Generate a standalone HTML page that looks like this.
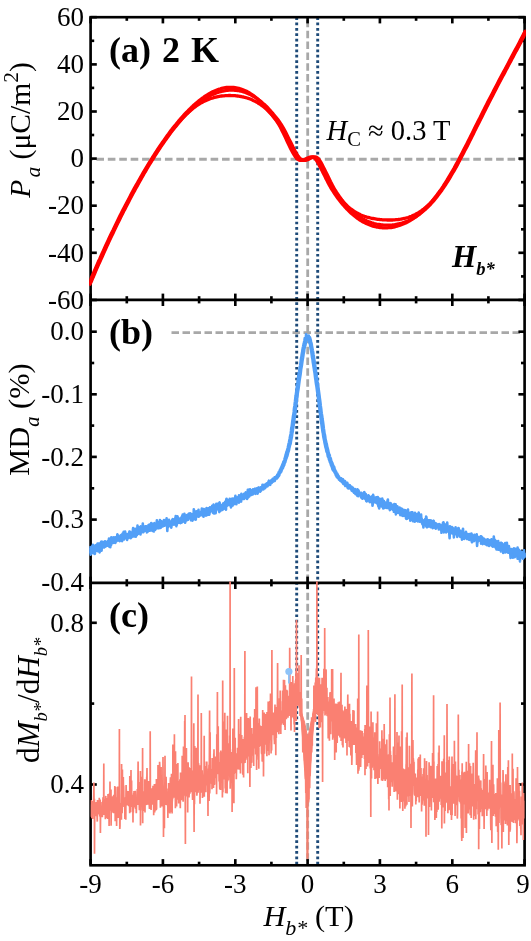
<!DOCTYPE html>
<html><head><meta charset="utf-8"><title>chart</title>
<style>
html,body{margin:0;padding:0;background:#fff;}
body{width:531px;height:941px;overflow:hidden;font-family:"Liberation Serif",serif;}
svg{display:block;will-change:transform;}
svg text{font-family:"Liberation Serif",serif;fill:#000;}
.tl text{font-size:27px;}
.it{font-style:italic;}
.b{font-weight:bold;}
</style></head><body>
<svg width="531" height="941" viewBox="0 0 531 941">
<rect width="531" height="941" fill="#fff"/>
<defs><clipPath id="ca"><rect x="89.3" y="15.9" width="436.5" height="568"/></clipPath><clipPath id="cc"><rect x="90.6" y="581.6" width="434" height="284"/></clipPath></defs>
<!-- guide lines -->
<g fill="none">
<line x1="90.6" y1="159.3" x2="524.6" y2="159.3" stroke="#a8a8a8" stroke-width="2.9" stroke-dasharray="7.6 3.82" stroke-dashoffset="5.62"/>
<line x1="171.5" y1="332.6" x2="524.6" y2="332.6" stroke="#a8a8a8" stroke-width="2.9" stroke-dasharray="7.5 3.5"/>
<g stroke="#a8a8a8" stroke-width="2.8" stroke-dasharray="7.5 3.35">
<line x1="307.7" y1="17.2" x2="307.7" y2="299.8" stroke-dashoffset="8.2"/>
<line x1="307.7" y1="299.8" x2="307.7" y2="582.8" stroke-dashoffset="7.4"/>
<line x1="307.7" y1="582.8" x2="307.7" y2="865.3" stroke-dashoffset="0.85"/>
</g>
<line x1="296.7" y1="17.2" x2="296.7" y2="865.3" stroke="#1d4a78" stroke-width="2.9" stroke-dasharray="2.7 2.68"/>
<line x1="317.7" y1="17.2" x2="317.7" y2="865.3" stroke="#1d4a78" stroke-width="2.9" stroke-dasharray="2.7 2.68"/>
</g>
<!-- frame -->
<g fill="none" stroke="#000" stroke-width="2.65" stroke-linecap="butt">
<rect x="90.6" y="17.2" width="434" height="848.1"/>
<line x1="90.6" y1="299.8" x2="524.6" y2="299.8"/>
<line x1="90.6" y1="582.8" x2="524.6" y2="582.8"/>
<line x1="90.6" y1="17.2" x2="90.6" y2="23.4"/><line x1="90.6" y1="293.6" x2="90.6" y2="306"/><line x1="90.6" y1="576.6" x2="90.6" y2="589"/><line x1="90.6" y1="859.1" x2="90.6" y2="865.3"/><line x1="126.8" y1="17.2" x2="126.8" y2="20.8"/><line x1="126.8" y1="296.2" x2="126.8" y2="303.4"/><line x1="126.8" y1="579.2" x2="126.8" y2="586.4"/><line x1="126.8" y1="861.7" x2="126.8" y2="865.3"/><line x1="162.9" y1="17.2" x2="162.9" y2="23.4"/><line x1="162.9" y1="293.6" x2="162.9" y2="306"/><line x1="162.9" y1="576.6" x2="162.9" y2="589"/><line x1="162.9" y1="859.1" x2="162.9" y2="865.3"/><line x1="199.1" y1="17.2" x2="199.1" y2="20.8"/><line x1="199.1" y1="296.2" x2="199.1" y2="303.4"/><line x1="199.1" y1="579.2" x2="199.1" y2="586.4"/><line x1="199.1" y1="861.7" x2="199.1" y2="865.3"/><line x1="235.3" y1="17.2" x2="235.3" y2="23.4"/><line x1="235.3" y1="293.6" x2="235.3" y2="306"/><line x1="235.3" y1="576.6" x2="235.3" y2="589"/><line x1="235.3" y1="859.1" x2="235.3" y2="865.3"/><line x1="271.4" y1="17.2" x2="271.4" y2="20.8"/><line x1="271.4" y1="296.2" x2="271.4" y2="303.4"/><line x1="271.4" y1="579.2" x2="271.4" y2="586.4"/><line x1="271.4" y1="861.7" x2="271.4" y2="865.3"/><line x1="307.6" y1="17.2" x2="307.6" y2="23.4"/><line x1="307.6" y1="293.6" x2="307.6" y2="306"/><line x1="307.6" y1="576.6" x2="307.6" y2="589"/><line x1="307.6" y1="859.1" x2="307.6" y2="865.3"/><line x1="343.8" y1="17.2" x2="343.8" y2="20.8"/><line x1="343.8" y1="296.2" x2="343.8" y2="303.4"/><line x1="343.8" y1="579.2" x2="343.8" y2="586.4"/><line x1="343.8" y1="861.7" x2="343.8" y2="865.3"/><line x1="379.9" y1="17.2" x2="379.9" y2="23.4"/><line x1="379.9" y1="293.6" x2="379.9" y2="306"/><line x1="379.9" y1="576.6" x2="379.9" y2="589"/><line x1="379.9" y1="859.1" x2="379.9" y2="865.3"/><line x1="416.1" y1="17.2" x2="416.1" y2="20.8"/><line x1="416.1" y1="296.2" x2="416.1" y2="303.4"/><line x1="416.1" y1="579.2" x2="416.1" y2="586.4"/><line x1="416.1" y1="861.7" x2="416.1" y2="865.3"/><line x1="452.3" y1="17.2" x2="452.3" y2="23.4"/><line x1="452.3" y1="293.6" x2="452.3" y2="306"/><line x1="452.3" y1="576.6" x2="452.3" y2="589"/><line x1="452.3" y1="859.1" x2="452.3" y2="865.3"/><line x1="488.4" y1="17.2" x2="488.4" y2="20.8"/><line x1="488.4" y1="296.2" x2="488.4" y2="303.4"/><line x1="488.4" y1="579.2" x2="488.4" y2="586.4"/><line x1="488.4" y1="861.7" x2="488.4" y2="865.3"/><line x1="524.6" y1="17.2" x2="524.6" y2="23.4"/><line x1="524.6" y1="293.6" x2="524.6" y2="306"/><line x1="524.6" y1="576.6" x2="524.6" y2="589"/><line x1="524.6" y1="859.1" x2="524.6" y2="865.3"/><line x1="90.6" y1="300" x2="96.8" y2="300"/><line x1="518.4" y1="300" x2="524.6" y2="300"/><line x1="90.6" y1="276.4" x2="94.2" y2="276.4"/><line x1="521" y1="276.4" x2="524.6" y2="276.4"/><line x1="90.6" y1="252.8" x2="96.8" y2="252.8"/><line x1="518.4" y1="252.8" x2="524.6" y2="252.8"/><line x1="90.6" y1="229.3" x2="94.2" y2="229.3"/><line x1="521" y1="229.3" x2="524.6" y2="229.3"/><line x1="90.6" y1="205.7" x2="96.8" y2="205.7"/><line x1="518.4" y1="205.7" x2="524.6" y2="205.7"/><line x1="90.6" y1="182.2" x2="94.2" y2="182.2"/><line x1="521" y1="182.2" x2="524.6" y2="182.2"/><line x1="90.6" y1="158.6" x2="96.8" y2="158.6"/><line x1="518.4" y1="158.6" x2="524.6" y2="158.6"/><line x1="90.6" y1="135" x2="94.2" y2="135"/><line x1="521" y1="135" x2="524.6" y2="135"/><line x1="90.6" y1="111.5" x2="96.8" y2="111.5"/><line x1="518.4" y1="111.5" x2="524.6" y2="111.5"/><line x1="90.6" y1="87.9" x2="94.2" y2="87.9"/><line x1="521" y1="87.9" x2="524.6" y2="87.9"/><line x1="90.6" y1="64.4" x2="96.8" y2="64.4"/><line x1="518.4" y1="64.4" x2="524.6" y2="64.4"/><line x1="90.6" y1="40.8" x2="94.2" y2="40.8"/><line x1="521" y1="40.8" x2="524.6" y2="40.8"/><line x1="90.6" y1="17.2" x2="96.8" y2="17.2"/><line x1="518.4" y1="17.2" x2="524.6" y2="17.2"/><line x1="90.6" y1="331.7" x2="96.8" y2="331.7"/><line x1="518.4" y1="331.7" x2="524.6" y2="331.7"/><line x1="90.6" y1="363" x2="94.2" y2="363"/><line x1="521" y1="363" x2="524.6" y2="363"/><line x1="90.6" y1="394.3" x2="96.8" y2="394.3"/><line x1="518.4" y1="394.3" x2="524.6" y2="394.3"/><line x1="90.6" y1="425.6" x2="94.2" y2="425.6"/><line x1="521" y1="425.6" x2="524.6" y2="425.6"/><line x1="90.6" y1="456.9" x2="96.8" y2="456.9"/><line x1="518.4" y1="456.9" x2="524.6" y2="456.9"/><line x1="90.6" y1="488.3" x2="94.2" y2="488.3"/><line x1="521" y1="488.3" x2="524.6" y2="488.3"/><line x1="90.6" y1="519.6" x2="96.8" y2="519.6"/><line x1="518.4" y1="519.6" x2="524.6" y2="519.6"/><line x1="90.6" y1="550.9" x2="94.2" y2="550.9"/><line x1="521" y1="550.9" x2="524.6" y2="550.9"/><line x1="90.6" y1="622.8" x2="96.8" y2="622.8"/><line x1="518.4" y1="622.8" x2="524.6" y2="622.8"/><line x1="90.6" y1="703.6" x2="94.2" y2="703.6"/><line x1="521" y1="703.6" x2="524.6" y2="703.6"/><line x1="90.6" y1="784.5" x2="96.8" y2="784.5"/><line x1="518.4" y1="784.5" x2="524.6" y2="784.5"/>
</g>
<!-- data -->
<g fill="none" stroke-linejoin="round" stroke-linecap="round">
<g stroke="#ff0000" stroke-width="3.3" clip-path="url(#ca)">
<path d="M89.9,281.4 L91.1,278.5 L92.3,275.7 L93.5,272.9 L94.7,270.1 L95.9,267.3 L97.1,264.6 L98.3,261.8 L99.6,259.1 L100.8,256.4 L102,253.7 L103.2,251.1 L104.4,248.4 L105.6,245.8 L106.8,243.2 L108,240.6 L109.2,238 L110.4,235.5 L111.6,232.9 L112.9,230.4 L114.1,227.9 L115.3,225.4 L116.5,222.9 L117.7,220.5 L118.9,218 L120.1,215.6 L121.3,213.2 L122.5,210.8 L123.7,208.5 L125,206.1 L126.2,203.8 L127.4,201.5 L128.6,199.2 L129.8,196.9 L131,194.6 L132.2,192.4 L133.4,190.1 L134.6,187.9 L135.8,185.7 L137.1,183.5 L138.3,181.4 L139.5,179.2 L140.7,177.1 L141.9,175 L143.1,172.9 L144.3,170.9 L145.5,168.8 L146.7,166.8 L147.9,164.8 L149.1,162.8 L150.4,160.8 L151.6,158.9 L152.8,157 L154,155.1 L155.2,153.2 L156.4,151.3 L157.6,149.5 L158.8,147.7 L160,145.9 L161.2,144.1 L162.5,142.3 L163.7,140.6 L164.9,138.9 L166.1,137.2 L167.3,135.5 L168.5,133.9 L169.7,132.2 L170.9,130.6 L172.1,129.1 L173.3,127.5 L174.5,126 L175.8,124.5 L177,123 L178.2,121.6 L179.4,120.1 L180.6,118.7 L181.8,117.4 L183,116 L184.2,114.7 L185.4,113.4 L186.6,112.1 L187.9,110.9 L189.1,109.6 L190.3,108.5 L191.5,107.3 L192.7,106.2 L193.9,105 L195.1,104 L196.3,102.9 L197.5,101.9 L198.7,100.9 L199.9,100 L201.2,99 L202.4,98.1 L203.6,97.3 L204.8,96.4 L206,95.6 L207.2,94.9 L208.4,94.1 L209.6,93.4 L210.8,92.8 L212,92.1 L213.3,91.5 L214.5,91 L215.7,90.5 L216.9,90 L218.1,89.5 L219.3,89.1 L220.5,88.8 L221.7,88.4 L222.9,88.1 L224.1,87.9 L225.3,87.7 L226.6,87.5 L227.8,87.4 L229,87.4 L230.2,87.3 L231.4,87.3 L232.6,87.4 L233.8,87.5 L235,87.6 L236.2,87.8 L237.4,88.1 L238.7,88.4 L239.9,88.7 L241.1,89.1 L242.3,89.5 L243.5,90 L244.7,90.5 L245.9,91 L247.1,91.6 L248.3,92.3 L249.5,93 L250.8,93.8 L252,94.6 L253.2,95.4 L254.4,96.3 L255.6,97.2 L256.8,98.2 L258,99.3 L259.2,100.3 L260.4,101.5 L261.6,102.6 L262.8,103.9 L264.1,105.2 L265.3,106.5 L266.5,107.9 L267.7,109.3 L268.9,110.8 L270.1,112.3 L271.3,113.9 L272.5,115.5 L273.7,117.1 L274.9,118.7 L276.2,120.4 L277.4,122.3 L278.6,124.2 L279.8,126.3 L281,128.5 L282.2,130.9 L283.4,133.3 L284.6,135.9 L285.8,138.4 L287,141 L288.2,143.6 L289.5,146.2 L290.7,148.7 L291.9,151 L293.1,153.2 L294.3,155.2 L295.5,157 L296.7,158.4 L297.9,159.4 L299.1,160.1 L300.3,160.4 L301.6,160.4 L302.8,160.2 L304,159.8 L305.2,159.2 L306.4,158.6 L307.6,158 L308.8,157.5 L310,157.1 L311.2,157 L312.4,157.1 L313.6,157.6 L314.9,158.5 L316.1,159.9 L317.3,161.8 L318.5,163.9 L319.7,166.1 L320.9,168.4 L322.1,170.8 L323.3,173.2 L324.5,175.6 L325.7,178.1 L327,180.5 L328.2,182.9 L329.4,185.1 L330.6,187.3 L331.8,189.3 L333,191.2 L334.2,193 L335.4,194.8 L336.6,196.5 L337.8,198.2 L339,199.8 L340.3,201.4 L341.5,202.9 L342.7,204.4 L343.9,205.8 L345.1,207.2 L346.3,208.5 L347.5,209.7 L348.7,210.9 L349.9,212.1 L351.1,213.2 L352.4,214.3 L353.6,215.3 L354.8,216.3 L356,217.2 L357.2,218.1 L358.4,219 L359.6,219.8 L360.8,220.5 L362,221.3 L363.2,222 L364.4,222.6 L365.7,223.2 L366.9,223.8 L368.1,224.3 L369.3,224.8 L370.5,225.3 L371.7,225.7 L372.9,226.1 L374.1,226.4 L375.3,226.7 L376.5,227 L377.8,227.2 L379,227.4 L380.2,227.6 L381.4,227.7 L382.6,227.8 L383.8,227.9 L385,227.9 L386.2,227.9 L387.4,227.8 L388.6,227.7 L389.9,227.6 L391.1,227.5 L392.3,227.3 L393.5,227.1 L394.7,226.8 L395.9,226.5 L397.1,226.2 L398.3,225.8 L399.5,225.4 L400.7,225 L401.9,224.5 L403.2,224 L404.4,223.5 L405.6,223 L406.8,222.4 L408,221.7 L409.2,221.1 L410.4,220.3 L411.6,219.6 L412.8,218.8 L414,218 L415.3,217.2 L416.5,216.3 L417.7,215.3 L418.9,214.4 L420.1,213.4 L421.3,212.3 L422.5,211.2 L423.7,210.1 L424.9,209 L426.1,207.7 L427.3,206.5 L428.6,205.2 L429.8,203.9 L431,202.5 L432.2,201.1 L433.4,199.6 L434.6,198.1 L435.8,196.5 L437,195 L438.2,193.3 L439.4,191.6 L440.7,189.9 L441.9,188.2 L443.1,186.4 L444.3,184.5 L445.5,182.6 L446.7,180.7 L447.9,178.7 L449.1,176.7 L450.3,174.7 L451.5,172.6 L452.7,170.5 L454,168.3 L455.2,166.1 L456.4,163.9 L457.6,161.7 L458.8,159.4 L460,157.1 L461.2,154.8 L462.4,152.5 L463.6,150.1 L464.8,147.8 L466.1,145.4 L467.3,143 L468.5,140.6 L469.7,138.2 L470.9,135.8 L472.1,133.4 L473.3,131 L474.5,128.5 L475.7,126.1 L476.9,123.7 L478.1,121.3 L479.4,118.9 L480.6,116.4 L481.8,114 L483,111.6 L484.2,109.2 L485.4,106.8 L486.6,104.5 L487.8,102.1 L489,99.7 L490.2,97.4 L491.5,95 L492.7,92.7 L493.9,90.3 L495.1,88 L496.3,85.7 L497.5,83.4 L498.7,81.1 L499.9,78.8 L501.1,76.5 L502.3,74.2 L503.6,71.9 L504.8,69.7 L506,67.4 L507.2,65.2 L508.4,62.9 L509.6,60.6 L510.8,58.4 L512,56.1 L513.2,53.9 L514.4,51.6 L515.6,49.3 L516.9,47 L518.1,44.8 L519.3,42.5 L520.5,40.1 L521.7,37.8 L522.9,35.5 L524.1,33.1 L525.3,31.2"/><path d="M89.9,284.3 L91.1,282 L92.3,279.1 L93.5,276.3 L94.7,273.5 L95.9,270.7 L97.1,267.9 L98.3,265.1 L99.6,262.4 L100.8,259.7 L102,257 L103.2,254.3 L104.4,251.6 L105.6,249 L106.8,246.3 L108,243.7 L109.2,241.1 L110.4,238.5 L111.6,236 L112.9,233.4 L114.1,230.9 L115.3,228.4 L116.5,225.9 L117.7,223.4 L118.9,221 L120.1,218.5 L121.3,216.1 L122.5,213.7 L123.7,211.3 L125,208.9 L126.2,206.6 L127.4,204.2 L128.6,201.9 L129.8,199.6 L131,197.3 L132.2,195 L133.4,192.8 L134.6,190.6 L135.8,188.3 L137.1,186.1 L138.3,184 L139.5,181.8 L140.7,179.7 L141.9,177.5 L143.1,175.4 L144.3,173.3 L145.5,171.3 L146.7,169.2 L147.9,167.2 L149.1,165.2 L150.4,163.2 L151.6,161.2 L152.8,159.3 L154,157.3 L155.2,155.4 L156.4,153.6 L157.6,151.7 L158.8,149.8 L160,148 L161.2,146.2 L162.5,144.4 L163.7,142.7 L164.9,140.9 L166.1,139.2 L167.3,137.5 L168.5,135.9 L169.7,134.2 L170.9,132.6 L172.1,131 L173.3,129.5 L174.5,127.9 L175.8,126.4 L177,124.9 L178.2,123.5 L179.4,122 L180.6,120.6 L181.8,119.2 L183,117.9 L184.2,116.6 L185.4,115.3 L186.6,114 L187.9,112.8 L189.1,111.6 L190.3,110.4 L191.5,109.2 L192.7,108.1 L193.9,107.1 L195.1,106 L196.3,105 L197.5,104 L198.7,103 L199.9,102.1 L201.2,101.2 L202.4,100.4 L203.6,99.6 L204.8,98.8 L206,98 L207.2,97.3 L208.4,96.6 L209.6,95.9 L210.8,95.3 L212,94.7 L213.3,94.2 L214.5,93.7 L215.7,93.2 L216.9,92.7 L218.1,92.3 L219.3,92 L220.5,91.6 L221.7,91.3 L222.9,91 L224.1,90.8 L225.3,90.6 L226.6,90.4 L227.8,90.3 L229,90.2 L230.2,90.1 L231.4,90.1 L232.6,90.1 L233.8,90.2 L235,90.3 L236.2,90.4 L237.4,90.5 L238.7,90.7 L239.9,91 L241.1,91.2 L242.3,91.5 L243.5,91.9 L244.7,92.3 L245.9,92.7 L247.1,93.2 L248.3,93.7 L249.5,94.3 L250.8,94.8 L252,95.5 L253.2,96.2 L254.4,96.9 L255.6,97.7 L256.8,98.5 L258,99.3 L259.2,100.2 L260.4,101.1 L261.6,102.1 L262.8,103.2 L264.1,104.2 L265.3,105.3 L266.5,106.5 L267.7,107.7 L268.9,109 L270.1,110.3 L271.3,111.7 L272.5,113.1 L273.7,114.6 L274.9,116 L276.2,117.5 L277.4,119 L278.6,120.6 L279.8,122.3 L281,124.1 L282.2,126.1 L283.4,128.1 L284.6,130.3 L285.8,132.6 L287,135 L288.2,137.4 L289.5,139.9 L290.7,142.3 L291.9,144.8 L293.1,147.2 L294.3,149.6 L295.5,151.8 L296.7,153.9 L297.9,155.7 L299.1,157.3 L300.3,158.6 L301.6,159.5 L302.8,160.1 L304,160.4 L305.2,160.4 L306.4,160.1 L307.6,159.7 L308.8,159.2 L310,158.6 L311.2,158 L312.4,157.5 L313.6,157.1 L314.9,157 L316.1,157.1 L317.3,157.7 L318.5,158.8 L319.7,160.4 L320.9,162.3 L322.1,164.5 L323.3,166.9 L324.5,169.3 L325.7,171.7 L327,174.2 L328.2,176.8 L329.4,179.3 L330.6,181.8 L331.8,184.1 L333,186.4 L334.2,188.5 L335.4,190.5 L336.6,192.4 L337.8,194.2 L339,196 L340.3,197.7 L341.5,199.4 L342.7,201 L343.9,202.5 L345.1,203.9 L346.3,205.3 L347.5,206.7 L348.7,207.9 L349.9,209.1 L351.1,210.3 L352.4,211.4 L353.6,212.4 L354.8,213.4 L356,214.4 L357.2,215.3 L358.4,216.2 L359.6,217 L360.8,217.7 L362,218.4 L363.2,219.1 L364.4,219.8 L365.7,220.3 L366.9,220.9 L368.1,221.4 L369.3,221.9 L370.5,222.3 L371.7,222.8 L372.9,223.1 L374.1,223.5 L375.3,223.8 L376.5,224.1 L377.8,224.3 L379,224.5 L380.2,224.7 L381.4,224.9 L382.6,225 L383.8,225.1 L385,225.1 L386.2,225.2 L387.4,225.2 L388.6,225.2 L389.9,225.1 L391.1,225.1 L392.3,225 L393.5,224.8 L394.7,224.7 L395.9,224.5 L397.1,224.2 L398.3,224 L399.5,223.7 L400.7,223.4 L401.9,223.1 L403.2,222.7 L404.4,222.3 L405.6,221.8 L406.8,221.4 L408,220.9 L409.2,220.3 L410.4,219.7 L411.6,219.1 L412.8,218.5 L414,217.8 L415.3,217.1 L416.5,216.3 L417.7,215.5 L418.9,214.6 L420.1,213.7 L421.3,212.8 L422.5,211.8 L423.7,210.8 L424.9,209.8 L426.1,208.7 L427.3,207.5 L428.6,206.3 L429.8,205.1 L431,203.8 L432.2,202.4 L433.4,201.1 L434.6,199.6 L435.8,198.2 L437,196.7 L438.2,195.1 L439.4,193.5 L440.7,191.8 L441.9,190.2 L443.1,188.4 L444.3,186.6 L445.5,184.8 L446.7,182.9 L447.9,181 L449.1,179.1 L450.3,177.1 L451.5,175 L452.7,173 L454,170.9 L455.2,168.7 L456.4,166.6 L457.6,164.4 L458.8,162.1 L460,159.9 L461.2,157.6 L462.4,155.3 L463.6,152.9 L464.8,150.6 L466.1,148.2 L467.3,145.9 L468.5,143.5 L469.7,141.1 L470.9,138.7 L472.1,136.3 L473.3,133.9 L474.5,131.4 L475.7,129 L476.9,126.6 L478.1,124.2 L479.4,121.7 L480.6,119.3 L481.8,116.9 L483,114.5 L484.2,112.1 L485.4,109.7 L486.6,107.3 L487.8,104.9 L489,102.5 L490.2,100.2 L491.5,97.8 L492.7,95.5 L493.9,93.1 L495.1,90.8 L496.3,88.5 L497.5,86.1 L498.7,83.8 L499.9,81.5 L501.1,79.2 L502.3,76.9 L503.6,74.7 L504.8,72.4 L506,70.1 L507.2,67.9 L508.4,65.6 L509.6,63.3 L510.8,61.1 L512,58.8 L513.2,56.6 L514.4,54.3 L515.6,52 L516.9,49.8 L518.1,47.5 L519.3,45.2 L520.5,42.9 L521.7,40.6 L522.9,38.3 L524.1,35.9 L525.3,33.6"/><path d="M89.9,283.1 L91.1,280.2 L92.3,277.4 L93.5,274.6 L94.7,271.8 L95.9,269 L97.1,266.2 L98.3,263.5 L99.6,260.8 L100.8,258 L102,255.3 L103.2,252.7 L104.4,250 L105.6,247.4 L106.8,244.8 L108,242.2 L109.2,239.6 L110.4,237 L111.6,234.4 L112.9,231.9 L114.1,229.4 L115.3,226.9 L116.5,224.4 L117.7,221.9 L118.9,219.5 L120.1,217.1 L121.3,214.7 L122.5,212.3 L123.7,209.9 L125,207.5 L126.2,205.2 L127.4,202.8 L128.6,200.5 L129.8,198.2 L131,196 L132.2,193.7 L133.4,191.5 L134.6,189.2 L135.8,187 L137.1,184.8 L138.3,182.7 L139.5,180.5 L140.7,178.4 L141.9,176.3 L143.1,174.2 L144.3,172.1 L145.5,170 L146.7,168 L147.9,166 L149.1,164 L150.4,162 L151.6,160.1 L152.8,158.1 L154,156.2 L155.2,154.3 L156.4,152.4 L157.6,150.6 L158.8,148.8 L160,147 L161.2,145.2 L162.5,143.4 L163.7,141.7 L164.9,140 L166.1,138.3 L167.3,136.6 L168.5,135 L169.7,133.4 L170.9,131.8 L172.1,130.2 L173.3,128.7 L174.5,127.2 L175.8,125.8 L177,124.3 L178.2,122.9 L179.4,121.6 L180.6,120.2 L181.8,118.9 L183,117.6 L184.2,116.4 L185.4,115.2 L186.6,114 L187.9,112.9 L189.1,111.8 L190.3,110.7 L191.5,109.7 L192.7,108.7 L193.9,107.8 L195.1,106.9 L196.3,106 L197.5,105.2 L198.7,104.4 L199.9,103.6 L201.2,102.9 L202.4,102.2 L203.6,101.6 L204.8,101 L206,100.4 L207.2,99.9 L208.4,99.4 L209.6,98.9 L210.8,98.5 L212,98.1 L213.3,97.8 L214.5,97.4 L215.7,97.1 L216.9,96.8 L218.1,96.6 L219.3,96.4 L220.5,96.2 L221.7,96 L222.9,95.9 L224.1,95.8 L225.3,95.7 L226.6,95.6 L227.8,95.6 L229,95.5 L230.2,95.5 L231.4,95.6 L232.6,95.6 L233.8,95.7 L235,95.7 L236.2,95.9 L237.4,96 L238.7,96.1 L239.9,96.3 L241.1,96.5 L242.3,96.8 L243.5,97 L244.7,97.3 L245.9,97.7 L247.1,98 L248.3,98.4 L249.5,98.8 L250.8,99.3 L252,99.8 L253.2,100.4 L254.4,100.9 L255.6,101.6 L256.8,102.2 L258,103 L259.2,103.7 L260.4,104.5 L261.6,105.4 L262.8,106.3 L264.1,107.3 L265.3,108.3 L266.5,109.4 L267.7,110.6 L268.9,111.8 L270.1,113 L271.3,114.3 L272.5,115.7 L273.7,117.1 L274.9,118.5 L276.2,119.9 L277.4,121.5 L278.6,123.1 L279.8,124.9 L281,126.8 L282.2,128.9 L283.4,131.1 L284.6,133.4 L285.8,135.8 L287,138.2 L288.2,140.7 L289.5,143.2 L290.7,145.7 L291.9,148.1 L293.1,150.4 L294.3,152.6 L295.5,154.6 L296.7,156.4 L297.9,157.9 L299.1,159 L300.3,159.8 L301.6,160.3 L302.8,160.4 L304,160.3 L305.2,160 L306.4,159.5 L307.6,158.9 L308.8,158.3 L310,157.7 L311.2,157.3 L312.4,157 L313.6,157 L314.9,157.3 L316.1,158.1 L317.3,159.3 L318.5,161 L319.7,163 L320.9,165.2 L322.1,167.5 L323.3,169.9 L324.5,172.3 L325.7,174.7 L327,177.2 L328.2,179.6 L329.4,182 L330.6,184.2 L331.8,186.3 L333,188.3 L334.2,190.2 L335.4,192 L336.6,193.7 L337.8,195.3 L339,196.9 L340.3,198.5 L341.5,199.9 L342.7,201.3 L343.9,202.6 L345.1,203.9 L346.3,205 L347.5,206.2 L348.7,207.2 L349.9,208.2 L351.1,209.2 L352.4,210 L353.6,210.9 L354.8,211.7 L356,212.4 L357.2,213.1 L358.4,213.7 L359.6,214.3 L360.8,214.9 L362,215.4 L363.2,215.9 L364.4,216.3 L365.7,216.7 L366.9,217.1 L368.1,217.4 L369.3,217.7 L370.5,218 L371.7,218.3 L372.9,218.5 L374.1,218.7 L375.3,218.9 L376.5,219.1 L377.8,219.3 L379,219.4 L380.2,219.6 L381.4,219.7 L382.6,219.8 L383.8,219.8 L385,219.9 L386.2,219.9 L387.4,220 L388.6,220 L389.9,220 L391.1,220 L392.3,220 L393.5,219.9 L394.7,219.8 L395.9,219.7 L397.1,219.6 L398.3,219.5 L399.5,219.3 L400.7,219.2 L401.9,219 L403.2,218.7 L404.4,218.5 L405.6,218.2 L406.8,217.8 L408,217.5 L409.2,217.1 L410.4,216.6 L411.6,216.2 L412.8,215.6 L414,215.1 L415.3,214.5 L416.5,213.8 L417.7,213.1 L418.9,212.4 L420.1,211.6 L421.3,210.8 L422.5,209.9 L423.7,209 L424.9,208 L426.1,207 L427.3,205.9 L428.6,204.8 L429.8,203.6 L431,202.3 L432.2,201.1 L433.4,199.7 L434.6,198.3 L435.8,196.9 L437,195.4 L438.2,193.8 L439.4,192.3 L440.7,190.6 L441.9,188.9 L443.1,187.2 L444.3,185.4 L445.5,183.6 L446.7,181.7 L447.9,179.8 L449.1,177.8 L450.3,175.8 L451.5,173.8 L452.7,171.7 L454,169.6 L455.2,167.4 L456.4,165.2 L457.6,163 L458.8,160.8 L460,158.5 L461.2,156.2 L462.4,153.9 L463.6,151.6 L464.8,149.2 L466.1,146.8 L467.3,144.4 L468.5,142.1 L469.7,139.7 L470.9,137.2 L472.1,134.8 L473.3,132.4 L474.5,130 L475.7,127.6 L476.9,125.1 L478.1,122.7 L479.4,120.3 L480.6,117.9 L481.8,115.5 L483,113.1 L484.2,110.7 L485.4,108.3 L486.6,105.9 L487.8,103.5 L489,101.1 L490.2,98.8 L491.5,96.4 L492.7,94.1 L493.9,91.7 L495.1,89.4 L496.3,87.1 L497.5,84.8 L498.7,82.5 L499.9,80.2 L501.1,77.9 L502.3,75.6 L503.6,73.3 L504.8,71 L506,68.8 L507.2,66.5 L508.4,64.2 L509.6,62 L510.8,59.7 L512,57.5 L513.2,55.2 L514.4,52.9 L515.6,50.7 L516.9,48.4 L518.1,46.1 L519.3,43.8 L520.5,41.5 L521.7,39.2 L522.9,36.9 L524.1,34.5 L525.3,32.2"/>
</g>
<g stroke="#529ff7" stroke-width="2.6" clip-path="url(#ca)"><path d="M89.9,547.2 L90.2,552.5 L90.5,548.7 L90.9,549 L91.2,549.5 L91.6,548 L91.9,546.2 L92.2,550.2 L92.6,550.2 L92.9,544.8 L93.2,553.3 L93.6,551.8 L93.9,547.2 L94.2,550.1 L94.6,547.6 L94.9,547.8 L95.2,549.6 L95.6,545.3 L95.9,548.4 L96.2,550.8 L96.6,550.8 L96.9,547 L97.3,548.9 L97.6,543.6 L97.9,545.7 L98.3,547.5 L98.6,543.6 L98.9,545.6 L99.3,549.9 L99.6,552.4 L99.9,548.6 L100.3,547.8 L100.6,543.7 L100.9,542.3 L101.3,541.6 L101.6,545.7 L101.9,546.8 L102.3,543.6 L102.6,541.7 L103,544.6 L103.3,545.1 L103.6,544 L104,546.8 L104.3,544.2 L104.6,543.6 L105,541.2 L105.3,543.4 L105.6,546.4 L106,543.9 L106.3,543.2 L106.6,543.9 L107,543.6 L107.3,543.9 L107.6,543.9 L108,543.9 L108.3,540.7 L108.6,542.4 L109,538.5 L109.3,541.8 L109.7,539 L110,540.9 L110.3,542.4 L110.7,540.5 L111,541.2 L111.3,537.4 L111.7,538.3 L112,541.9 L112.3,538.3 L112.7,541.4 L113,537.5 L113.3,537.6 L113.7,537.3 L114,539.5 L114.3,540.9 L114.7,537.5 L115,538.7 L115.4,542.9 L115.7,539.2 L116,537.2 L116.4,539.5 L116.7,538.5 L117,537.1 L117.4,534.4 L117.7,539.6 L118,537.4 L118.4,538 L118.7,535.7 L119,540.4 L119.4,540 L119.7,540.2 L120,537.7 L120.4,538.4 L120.7,539.5 L121.1,539.8 L121.4,538.2 L121.7,536.9 L122.1,536 L122.4,534.9 L122.7,534.2 L123.1,536.9 L123.4,535.9 L123.7,531.7 L124.1,535 L124.4,538.3 L124.7,535.6 L125.1,531.5 L125.4,534.6 L125.7,537.2 L126.1,536.1 L126.4,534.4 L126.8,539 L127.1,539.9 L127.4,535.4 L127.8,536.5 L128.1,535.8 L128.4,536.4 L128.8,537.9 L129.1,536.7 L129.4,534.7 L129.8,532.6 L130.1,531.9 L130.4,533.4 L130.8,536.2 L131.1,534.7 L131.4,533.7 L131.8,533.9 L132.1,533.4 L132.4,534.3 L132.8,530.7 L133.1,528.1 L133.5,531 L133.8,529.9 L134.1,535.6 L134.5,532.7 L134.8,531.7 L135.1,528.7 L135.5,532.1 L135.8,530.7 L136.1,534.1 L136.5,534 L136.8,530.2 L137.1,532.1 L137.5,525.5 L137.8,528.7 L138.1,533.7 L138.5,533.3 L138.8,531.6 L139.2,530.8 L139.5,527.6 L139.8,527.1 L140.2,530.5 L140.5,534.4 L140.8,526.2 L141.2,530.7 L141.5,531.6 L141.8,532.3 L142.2,528.3 L142.5,528.2 L142.8,529.5 L143.2,527.3 L143.5,526.3 L143.8,526.9 L144.2,528.7 L144.5,529.9 L144.9,529.1 L145.2,529.1 L145.5,527.3 L145.9,526.8 L146.2,530.8 L146.5,528.8 L146.9,528.2 L147.2,530.3 L147.5,531.3 L147.9,531.4 L148.2,529.4 L148.5,527.9 L148.9,528.4 L149.2,528.2 L149.5,530.7 L149.9,528.7 L150.2,528.9 L150.6,527.5 L150.9,530.2 L151.2,523.1 L151.6,527 L151.9,528.7 L152.2,524.5 L152.6,531 L152.9,527.1 L153.2,526.1 L153.6,523.9 L153.9,527.8 L154.2,527 L154.6,524.9 L154.9,526.3 L155.2,527.5 L155.6,528.8 L155.9,526.7 L156.2,523.6 L156.6,523.9 L156.9,520.2 L157.3,522.9 L157.6,526.6 L157.9,526.5 L158.3,525.1 L158.6,524.2 L158.9,528.3 L159.3,526.1 L159.6,526.9 L159.9,525.9 L160.3,523.3 L160.6,527.7 L160.9,522.3 L161.3,521.2 L161.6,522.8 L161.9,522.4 L162.3,522.6 L162.6,522.5 L163,525.9 L163.3,524.3 L163.6,524.6 L164,520.3 L164.3,521.1 L164.6,525.6 L165,521.2 L165.3,525.5 L165.6,521.4 L166,523.4 L166.3,521.3 L166.6,523.1 L167,521 L167.3,521.9 L167.6,526.4 L168,522.5 L168.3,527 L168.7,522.3 L169,519.7 L169.3,522.1 L169.7,521.4 L170,525.9 L170.3,524.7 L170.7,525 L171,523.8 L171.3,527.6 L171.7,524.5 L172,523.2 L172.3,520 L172.7,519.2 L173,521.5 L173.3,523.7 L173.7,524.2 L174,519.6 L174.4,522 L174.7,521.7 L175,518.6 L175.4,521.6 L175.7,516 L176,520.4 L176.4,526.2 L176.7,519.3 L177,520.1 L177.4,516.2 L177.7,517.9 L178,521.6 L178.4,518.1 L178.7,519.6 L179,519.2 L179.4,518.9 L179.7,520.1 L180,520.9 L180.4,522.5 L180.7,521.8 L181.1,518.5 L181.4,522.3 L181.7,522.6 L182.1,516.2 L182.4,519.9 L182.7,521.1 L183.1,521.3 L183.4,520.4 L183.7,516 L184.1,517.5 L184.4,513.8 L184.7,517.3 L185.1,522.7 L185.4,520.5 L185.7,520.2 L186.1,517.2 L186.4,515.5 L186.8,515.1 L187.1,517.6 L187.4,515.9 L187.8,515.8 L188.1,519.7 L188.4,514.1 L188.8,513.7 L189.1,515.5 L189.4,516.6 L189.8,516.6 L190.1,513.6 L190.4,516.6 L190.8,516.4 L191.1,517.2 L191.4,514.1 L191.8,516.4 L192.1,516.7 L192.5,514.7 L192.8,515.2 L193.1,514.5 L193.5,518.5 L193.8,509.2 L194.1,511.1 L194.5,511 L194.8,513.8 L195.1,513.5 L195.5,513.9 L195.8,516.3 L196.1,511.5 L196.5,512.2 L196.8,513.8 L197.1,511.7 L197.5,514.7 L197.8,515.1 L198.2,512.7 L198.5,509.8 L198.8,516.7 L199.2,515.4 L199.5,514.8 L199.8,513.9 L200.2,513.4 L200.5,515.1 L200.8,513.5 L201.2,511.7 L201.5,514.3 L201.8,513.2 L202.2,511 L202.5,510.3 L202.8,514.7 L203.2,514.2 L203.5,516.8 L203.9,511.7 L204.2,510.1 L204.5,512.5 L204.9,515 L205.2,513.5 L205.5,512.7 L205.9,515.7 L206.2,510.4 L206.5,508.1 L206.9,508.9 L207.2,509.9 L207.5,511.5 L207.9,513 L208.2,511.8 L208.5,513.9 L208.9,509 L209.2,514 L209.5,509 L209.9,512.2 L210.2,508.2 L210.6,510 L210.9,509.8 L211.2,510.6 L211.6,511.1 L211.9,509 L212.2,508.8 L212.6,509.4 L212.9,506 L213.2,506.5 L213.6,504.6 L213.9,507.8 L214.2,513.2 L214.6,510.6 L214.9,506.4 L215.2,506 L215.6,509.6 L215.9,507 L216.3,503.8 L216.6,504.5 L216.9,504.5 L217.3,504.4 L217.6,508.1 L217.9,507.3 L218.3,503.5 L218.6,504.8 L218.9,503.7 L219.3,503.2 L219.6,502.4 L219.9,509.4 L220.3,506 L220.6,507 L220.9,507.8 L221.3,505 L221.6,506.5 L222,506.7 L222.3,505.9 L222.6,509.9 L223,506.4 L223.3,504.4 L223.6,506 L224,508.7 L224.3,507.3 L224.6,503.6 L225,502 L225.3,501.6 L225.6,502 L226,504.3 L226.3,505.6 L226.6,498.8 L227,502.4 L227.3,500.7 L227.7,504.1 L228,505.2 L228.3,501.4 L228.7,501.3 L229,500.2 L229.3,502.9 L229.7,498.8 L230,499 L230.3,500 L230.7,504.3 L231,507.5 L231.3,502.5 L231.7,498.7 L232,500.9 L232.3,499.2 L232.7,501.7 L233,498.6 L233.3,499.4 L233.7,500.4 L234,501.6 L234.4,500.3 L234.7,502.9 L235,500.8 L235.4,495.9 L235.7,501 L236,499.3 L236.4,497.8 L236.7,502.3 L237,497.5 L237.4,498.8 L237.7,497.3 L238,501.4 L238.4,498.3 L238.7,498.8 L239,495.3 L239.4,500.6 L239.7,496.2 L240.1,499.3 L240.4,500.3 L240.7,500.5 L241.1,501.6 L241.4,495.4 L241.7,497.4 L242.1,497.3 L242.4,497.6 L242.7,498.9 L243.1,497 L243.4,494.7 L243.7,495.6 L244.1,498.9 L244.4,494 L244.7,495.4 L245.1,493.6 L245.4,497.1 L245.8,492.4 L246.1,493.8 L246.4,494.5 L246.8,494.8 L247.1,498.9 L247.4,497.9 L247.8,492.8 L248.1,497.5 L248.4,492.3 L248.8,489.9 L249.1,490.2 L249.4,493.2 L249.8,494.1 L250.1,489.3 L250.4,492.8 L250.8,492.3 L251.1,493.5 L251.5,491.8 L251.8,493.4 L252.1,493.1 L252.5,490 L252.8,493.6 L253.1,492.1 L253.5,492.4 L253.8,493.2 L254.1,489.7 L254.5,490.3 L254.8,489.3 L255.1,488.7 L255.5,490.4 L255.8,490.7 L256.1,492 L256.5,492.2 L256.8,489.9 L257.1,488.2 L257.5,493.7 L257.8,493 L258.2,489.4 L258.5,487.5 L258.8,487.9 L259.2,488.8 L259.5,490 L259.8,489.8 L260.2,488.9 L260.5,487.7 L260.8,487.9 L261.2,487.2 L261.5,487.4 L261.8,487.1 L262.2,487.7 L262.5,484.7 L262.8,485.9 L263.2,486.1 L263.5,485 L263.9,485.8 L264.2,484.8 L264.5,484.9 L264.9,485.2 L265.2,485.1 L265.5,484.6 L265.9,486.2 L266.2,485.3 L266.5,485.1 L266.9,484.8 L267.2,483.6 L267.5,483 L267.9,484.6 L268.2,483.4 L268.5,481.6 L268.9,480.7 L269.2,482.8 L269.6,482.1 L269.9,482.3 L270.2,481.7 L270.6,481.6 L270.9,481.5 L271.2,480.4 L271.6,481 L271.9,481.8 L272.2,481.4 L272.6,479 L272.9,478.7 L273.2,478.5 L273.6,479.1 L273.9,479.8 L274.2,479.2 L274.6,477.2 L274.9,477.9 L275.3,478.4 L275.6,477.1 L275.9,478.3 L276.3,476.3 L276.6,476.9 L276.9,477.4 L277.3,474.6 L277.6,474.3 L277.9,474.5 L278.3,475.7 L278.6,472.2 L278.9,472.5 L279.3,472 L279.6,470.9 L279.9,470 L280.3,469.4 L280.6,468.8 L281,467.6 L281.3,468.2 L281.6,466.3 L282,465.6 L282.3,464.7 L282.6,463.9 L283,463.3 L283.3,462 L283.6,461.3 L284,461.1 L284.3,460 L284.6,458.4 L285,457.7 L285.3,456.1 L285.6,455.3 L286,453.6 L286.3,452.5 L286.6,451.4 L287,450.8 L287.3,449.3 L287.7,448.1 L288,446.6 L288.3,445.2 L288.7,443.7 L289,442.3 L289.3,440.5 L289.7,438.4 L290,436.6 L290.3,435.4 L290.7,433.4 L291,431 L291.3,427.9 L291.7,426.4 L292,423.8 L292.3,421.1 L292.7,418.6 L293,416.1 L293.4,414.3 L293.7,411.9 L294,408.4 L294.4,405.9 L294.7,403.5 L295,401.2 L295.4,397.3 L295.7,395.6 L296,393.5 L296.4,390.4 L296.7,387.9 L297,385.9 L297.4,383.4 L297.7,380.4 L298,378 L298.4,375.8 L298.7,373.4 L299.1,371.7 L299.4,369.4 L299.7,367.3 L300.1,365.4 L300.4,363.6 L300.7,361 L301.1,358 L301.4,356.8 L301.7,354.3 L302.1,352.6 L302.4,350.1 L302.7,348.4 L303.1,346.6 L303.4,345 L303.7,343.9 L304.1,341.9 L304.4,340.7 L304.8,338 L305.1,338.2 L305.4,337.9 L305.8,338.3 L306.1,334.2 L306.4,334.8 L306.8,335.8 L307.1,337.5 L307.4,338.3 L307.8,339.1 L308.1,339.8 L308.4,338.8 L308.8,339.8 L309.1,341.9 L309.4,342.9 L309.8,343.5 L310.1,345 L310.4,346.9 L310.8,349.2 L311.1,350.3 L311.5,353.3 L311.8,355.6 L312.1,357.7 L312.5,359.5 L312.8,362.3 L313.1,363.9 L313.5,366.5 L313.8,368.4 L314.1,370.5 L314.5,372.7 L314.8,375 L315.1,377.7 L315.5,380.1 L315.8,382.5 L316.1,384.6 L316.5,386.9 L316.8,389.2 L317.2,392.1 L317.5,394 L317.8,396.4 L318.2,399.3 L318.5,401.4 L318.8,404.4 L319.2,407.2 L319.5,409.5 L319.8,412.2 L320.2,415.1 L320.5,417.3 L320.8,419.8 L321.2,422.6 L321.5,424.6 L321.8,426.7 L322.2,429.4 L322.5,431.9 L322.9,433.3 L323.2,436 L323.5,437.7 L323.9,439.4 L324.2,440.9 L324.5,442.7 L324.9,444.6 L325.2,446 L325.5,447.4 L325.9,448.4 L326.2,450.3 L326.5,451.6 L326.9,452.3 L327.2,452.6 L327.5,454.5 L327.9,456.7 L328.2,457 L328.6,457.6 L328.9,459.4 L329.2,459.8 L329.6,461 L329.9,462.1 L330.2,462.3 L330.6,463.6 L330.9,465 L331.2,465.4 L331.6,466.5 L331.9,467.1 L332.2,468.3 L332.6,469.6 L332.9,469 L333.2,469.9 L333.6,471 L333.9,471.1 L334.2,471.6 L334.6,472.4 L334.9,473.1 L335.3,473.4 L335.6,474.5 L335.9,475.4 L336.3,475.9 L336.6,476.4 L336.9,477.2 L337.3,476 L337.6,476.9 L337.9,477.6 L338.3,478.3 L338.6,477.2 L338.9,479.7 L339.3,478.5 L339.6,479.3 L339.9,480.1 L340.3,480.8 L340.6,479.8 L341,479.9 L341.3,481 L341.6,481.6 L342,482.2 L342.3,481.7 L342.6,481.4 L343,481 L343.3,483.9 L343.6,482 L344,483.7 L344.3,483.9 L344.6,484.6 L345,485.2 L345.3,486 L345.6,485 L346,485.5 L346.3,483.6 L346.7,485.4 L347,485.1 L347.3,486 L347.7,487.9 L348,487.3 L348.3,488.4 L348.7,487.4 L349,488.1 L349.3,487.6 L349.7,485.3 L350,487.1 L350.3,488.2 L350.7,489 L351,489.2 L351.3,489.2 L351.7,490.7 L352,490.7 L352.4,489.6 L352.7,491.2 L353,488.1 L353.4,489.8 L353.7,490.6 L354,492.7 L354.4,490.8 L354.7,489.3 L355,491.5 L355.4,494.1 L355.7,492.1 L356,492 L356.4,492 L356.7,492.6 L357,494.6 L357.4,496 L357.7,494.3 L358.1,493.2 L358.4,496.1 L358.7,494.2 L359.1,493.9 L359.4,493.4 L359.7,493.5 L360.1,494.6 L360.4,494.1 L360.7,495.2 L361.1,495 L361.4,495.8 L361.7,494.6 L362.1,494.8 L362.4,495.8 L362.7,495.8 L363.1,495.9 L363.4,497.9 L363.7,494.6 L364.1,492.6 L364.4,497 L364.8,496.3 L365.1,498.9 L365.4,497.1 L365.8,494.9 L366.1,500.6 L366.4,498.7 L366.8,496.8 L367.1,496.1 L367.4,498.5 L367.8,496.8 L368.1,498.5 L368.4,500.5 L368.8,496.1 L369.1,497.4 L369.4,499.4 L369.8,502.1 L370.1,501.3 L370.5,498.5 L370.8,501.9 L371.1,499.1 L371.5,499 L371.8,500.3 L372.1,497.7 L372.5,505.7 L372.8,503.5 L373.1,501 L373.5,499.2 L373.8,497.8 L374.1,500.9 L374.5,502.2 L374.8,500.2 L375.1,500.4 L375.5,502.2 L375.8,501.3 L376.2,497.3 L376.5,502.2 L376.8,502.3 L377.2,503.4 L377.5,500.4 L377.8,497 L378.2,498.5 L378.5,502.4 L378.8,507 L379.2,508.5 L379.5,504.2 L379.8,499.6 L380.2,501.5 L380.5,503.8 L380.8,504.2 L381.2,503.6 L381.5,506.4 L381.9,502 L382.2,498.5 L382.5,501 L382.9,501 L383.2,508.5 L383.5,504.6 L383.9,501.1 L384.2,505.3 L384.5,507.1 L384.9,505.3 L385.2,505.3 L385.5,507.4 L385.9,506.7 L386.2,504 L386.5,506.5 L386.9,507.9 L387.2,506.9 L387.5,508 L387.9,507.7 L388.2,505.9 L388.6,505.9 L388.9,507.8 L389.2,505.6 L389.6,509.1 L389.9,510.1 L390.2,503.1 L390.6,506.3 L390.9,505.7 L391.2,505.8 L391.6,507.7 L391.9,507.5 L392.2,509.2 L392.6,509.1 L392.9,509.2 L393.2,506.8 L393.6,507.5 L393.9,511.8 L394.3,504 L394.6,511.9 L394.9,508.6 L395.3,511.7 L395.6,504.2 L395.9,507.7 L396.3,511.5 L396.6,510.6 L396.9,512.4 L397.3,508.7 L397.6,508.8 L397.9,508.9 L398.3,511.6 L398.6,512.1 L398.9,510.9 L399.3,510.5 L399.6,510.6 L400,511.6 L400.3,509.6 L400.6,511.3 L401,511.6 L401.3,510.9 L401.6,510.8 L402,515.4 L402.3,511.8 L402.6,513.4 L403,516 L403.3,515.2 L403.6,513.5 L404,515.6 L404.3,510.7 L404.6,510.3 L405,512.4 L405.3,513.3 L405.7,513.8 L406,518.3 L406.3,518.8 L406.7,515.1 L407,515.2 L407.3,512.9 L407.7,515.3 L408,512.3 L408.3,517.8 L408.7,514.8 L409,516.6 L409.3,513 L409.7,518.4 L410,517.9 L410.3,520.7 L410.7,517.2 L411,512.9 L411.3,514.2 L411.7,513.6 L412,519.9 L412.4,516.2 L412.7,515.2 L413,518.3 L413.4,518.2 L413.7,518.7 L414,516.8 L414.4,513.2 L414.7,514.2 L415,512.7 L415.4,520.2 L415.7,520.9 L416,518 L416.4,519.9 L416.7,520.5 L417,520.6 L417.4,520.5 L417.7,521.3 L418.1,519.8 L418.4,514.5 L418.7,512.6 L419.1,521.4 L419.4,521.6 L419.7,514.6 L420.1,519.5 L420.4,518.3 L420.7,518.7 L421.1,514.5 L421.4,521.2 L421.7,520.8 L422.1,522.6 L422.4,523.6 L422.7,524.3 L423.1,525.3 L423.4,522.6 L423.8,522 L424.1,520.2 L424.4,522.6 L424.8,521.4 L425.1,519.2 L425.4,524.2 L425.8,524.2 L426.1,516.6 L426.4,517.2 L426.8,521.3 L427.1,519.5 L427.4,524.9 L427.8,523.7 L428.1,524.3 L428.4,525.4 L428.8,526.5 L429.1,523.2 L429.5,524.7 L429.8,524.4 L430.1,525.5 L430.5,525.3 L430.8,527.3 L431.1,525.8 L431.5,523.3 L431.8,524.3 L432.1,521.9 L432.5,524.7 L432.8,528.1 L433.1,523.9 L433.5,520.9 L433.8,524.1 L434.1,523.9 L434.5,524.9 L434.8,523.9 L435.2,525.3 L435.5,523.2 L435.8,528.7 L436.2,525.8 L436.5,526.9 L436.8,527.8 L437.2,526 L437.5,527.1 L437.8,525.9 L438.2,525.3 L438.5,525.8 L438.8,527.6 L439.2,524.1 L439.5,524.3 L439.8,524.8 L440.2,525.5 L440.5,529.5 L440.8,527.6 L441.2,526.7 L441.5,527.7 L441.9,530 L442.2,526.4 L442.5,529.8 L442.9,523.1 L443.2,525.1 L443.5,531.1 L443.9,532.3 L444.2,529.4 L444.5,527.6 L444.9,530.3 L445.2,528.1 L445.5,532.1 L445.9,532.2 L446.2,531.2 L446.5,527.6 L446.9,531.1 L447.2,529.2 L447.6,528.9 L447.9,528.6 L448.2,529.3 L448.6,530.9 L448.9,532 L449.2,532.3 L449.6,538.1 L449.9,530.9 L450.2,532.9 L450.6,529.5 L450.9,530 L451.2,528.1 L451.6,533.1 L451.9,532 L452.2,531.5 L452.6,531 L452.9,533.3 L453.3,530.7 L453.6,532.3 L453.9,537.4 L454.3,532.5 L454.6,530.5 L454.9,529.5 L455.3,533.5 L455.6,532.7 L455.9,530.7 L456.3,530.3 L456.6,532.3 L456.9,530.5 L457.3,537 L457.6,533.3 L457.9,532.5 L458.3,532.8 L458.6,529.2 L459,529.4 L459.3,532.1 L459.6,533.3 L460,530.9 L460.3,537 L460.6,535.5 L461,537 L461.3,537.2 L461.6,534.1 L462,539.6 L462.3,535.6 L462.6,530.3 L463,528.7 L463.3,533.8 L463.6,536.7 L464,535.4 L464.3,538.9 L464.6,535.1 L465,536.4 L465.3,537.2 L465.7,533.4 L466,535.8 L466.3,536.6 L466.7,538.3 L467,539 L467.3,538.6 L467.7,534.8 L468,537.5 L468.3,538.9 L468.7,536.9 L469,538.2 L469.3,538.6 L469.7,539.6 L470,537.4 L470.3,538 L470.7,537.6 L471,537.3 L471.4,535.9 L471.7,536.3 L472,534.8 L472.4,536.6 L472.7,539.1 L473,539.4 L473.4,539.7 L473.7,538 L474,541.1 L474.4,537.7 L474.7,539.8 L475,539.6 L475.4,537 L475.7,536.7 L476,540.1 L476.4,539.2 L476.7,539.5 L477.1,545.9 L477.4,541.6 L477.7,539.7 L478.1,541 L478.4,538.4 L478.7,539 L479.1,540.6 L479.4,538.2 L479.7,539.5 L480.1,539.6 L480.4,540.3 L480.7,536.4 L481.1,543.6 L481.4,541 L481.7,541.8 L482.1,538.6 L482.4,537.5 L482.8,540.5 L483.1,540.3 L483.4,542.5 L483.8,539.5 L484.1,538.8 L484.4,541.9 L484.8,543.3 L485.1,544 L485.4,542.1 L485.8,542.5 L486.1,540.4 L486.4,544.8 L486.8,545.3 L487.1,545.3 L487.4,539.4 L487.8,544 L488.1,541.5 L488.4,543.7 L488.8,544.2 L489.1,546 L489.5,543.3 L489.8,542.6 L490.1,541.1 L490.5,540.6 L490.8,544.6 L491.1,542.1 L491.5,545.1 L491.8,543.5 L492.1,542.8 L492.5,546.2 L492.8,546.7 L493.1,542.7 L493.5,543.9 L493.8,544.7 L494.1,546.4 L494.5,543.7 L494.8,544 L495.2,544.9 L495.5,546.9 L495.8,547.8 L496.2,544.8 L496.5,549.5 L496.8,547.6 L497.2,544.5 L497.5,542.5 L497.8,544.6 L498.2,541 L498.5,546 L498.8,548 L499.2,549.8 L499.5,548.5 L499.8,543.5 L500.2,545.9 L500.5,548.8 L500.9,542.9 L501.2,544.9 L501.5,548.8 L501.9,548.2 L502.2,543.6 L502.5,546.2 L502.9,548.1 L503.2,552.9 L503.5,548.3 L503.9,546.4 L504.2,548.9 L504.5,549.7 L504.9,550.4 L505.2,552.5 L505.5,549.7 L505.9,546.3 L506.2,549.1 L506.6,549.7 L506.9,551.9 L507.2,552.2 L507.6,548.8 L507.9,551.6 L508.2,552.8 L508.6,550.4 L508.9,552.6 L509.2,551.4 L509.6,551.3 L509.9,550.7 L510.2,552.8 L510.6,557.9 L510.9,553 L511.2,549 L511.6,550.7 L511.9,550.4 L512.2,552.4 L512.6,551.8 L512.9,557.7 L513.3,554.9 L513.6,556.8 L513.9,551.7 L514.3,551.9 L514.6,557.3 L514.9,550 L515.3,552.7 L515.6,549.8 L515.9,556.1 L516.3,550.9 L516.6,552.4 L516.9,553.2 L517.3,550.1 L517.6,558.8 L517.9,554.7 L518.3,557.8 L518.6,553.5 L519,551 L519.3,554.5 L519.6,555.2 L520,561.4 L520.3,553.8 L520.6,551.3 L521,553.1 L521.3,555.8 L521.6,556.9 L522,554.2 L522.3,554.7 L522.6,557 L523,558.7 L523.3,555.3 L523.6,556.4 L524,550.3 L524.3,553.1 L524.7,556.9 L525,556.4 L525.3,555.9"/><path d="M89.9,549 L90.2,549.9 L90.5,554.6 L90.9,554.1 L91.2,551.3 L91.6,548.8 L91.9,548.9 L92.2,550.5 L92.6,549.3 L92.9,549.2 L93.2,547 L93.6,545.8 L93.9,546.1 L94.2,549.1 L94.6,546.8 L94.9,554 L95.2,550.8 L95.6,550.1 L95.9,550.7 L96.2,546.1 L96.6,544.9 L96.9,546.8 L97.3,548.9 L97.6,549 L97.9,551.3 L98.3,551 L98.6,550 L98.9,550 L99.3,547.9 L99.6,548.8 L99.9,546.3 L100.3,545.4 L100.6,548.3 L100.9,542.9 L101.3,548.6 L101.6,550.7 L101.9,545.5 L102.3,547.2 L102.6,546.2 L103,543.3 L103.3,545.7 L103.6,546.5 L104,547.5 L104.3,544.6 L104.6,544.9 L105,543.3 L105.3,546.5 L105.6,544.5 L106,546.1 L106.3,542.9 L106.6,543.9 L107,541.8 L107.3,541.6 L107.6,545.7 L108,543.4 L108.3,542.9 L108.6,544.6 L109,541.4 L109.3,546.8 L109.7,541.7 L110,541.3 L110.3,547.1 L110.7,539.2 L111,545.3 L111.3,543.5 L111.7,543.1 L112,539.5 L112.3,541.5 L112.7,538.6 L113,543 L113.3,540.9 L113.7,539.4 L114,539.5 L114.3,540.1 L114.7,542.6 L115,541.6 L115.4,538.7 L115.7,537.9 L116,537.3 L116.4,541.2 L116.7,541.1 L117,537.3 L117.4,535.4 L117.7,538.5 L118,537.8 L118.4,540 L118.7,538.8 L119,539.5 L119.4,540.6 L119.7,541.1 L120,538.3 L120.4,539.7 L120.7,537.1 L121.1,535 L121.4,537.9 L121.7,540.5 L122.1,541.2 L122.4,537.8 L122.7,533.5 L123.1,537.2 L123.4,536.7 L123.7,538.2 L124.1,539.4 L124.4,536.1 L124.7,534.8 L125.1,535.3 L125.4,534.6 L125.7,533.7 L126.1,536.1 L126.4,534.4 L126.8,534.9 L127.1,534.8 L127.4,534 L127.8,536.5 L128.1,534.5 L128.4,534.8 L128.8,536.8 L129.1,534.9 L129.4,531.5 L129.8,533 L130.1,533.3 L130.4,535.6 L130.8,538.2 L131.1,535.2 L131.4,533.8 L131.8,537.1 L132.1,532.8 L132.4,534.1 L132.8,534.7 L133.1,533.5 L133.5,532.9 L133.8,533.5 L134.1,536.5 L134.5,534.8 L134.8,531.8 L135.1,533.1 L135.5,534.9 L135.8,536.8 L136.1,534.9 L136.5,533 L136.8,535.3 L137.1,534.5 L137.5,532.6 L137.8,530.4 L138.1,531.6 L138.5,533.7 L138.8,529.5 L139.2,527.4 L139.5,531.8 L139.8,528 L140.2,527.6 L140.5,530 L140.8,530.2 L141.2,530.7 L141.5,531 L141.8,531.7 L142.2,530.3 L142.5,528.4 L142.8,523.6 L143.2,531.6 L143.5,532.1 L143.8,531.4 L144.2,529.9 L144.5,527.6 L144.9,530.1 L145.2,529.4 L145.5,526.2 L145.9,530.8 L146.2,526.3 L146.5,527.4 L146.9,532.5 L147.2,527.6 L147.5,528.6 L147.9,530.8 L148.2,528.8 L148.5,525.1 L148.9,526.5 L149.2,527.7 L149.5,524.6 L149.9,530.4 L150.2,529 L150.6,529.3 L150.9,528.4 L151.2,528.3 L151.6,526.6 L151.9,523.8 L152.2,528 L152.6,527.3 L152.9,530.3 L153.2,524.8 L153.6,526.6 L153.9,531.4 L154.2,524.4 L154.6,523.2 L154.9,526.3 L155.2,530 L155.6,524.1 L155.9,525.6 L156.2,525.5 L156.6,524.5 L156.9,524.9 L157.3,528.2 L157.6,526.3 L157.9,522.6 L158.3,523.4 L158.6,525.2 L158.9,522.1 L159.3,523 L159.6,523.8 L159.9,520.1 L160.3,528 L160.6,521.8 L160.9,524.1 L161.3,524.1 L161.6,523 L161.9,526.7 L162.3,524.8 L162.6,522.3 L163,526.3 L163.3,525.6 L163.6,521.8 L164,520 L164.3,525.1 L164.6,523.7 L165,520.3 L165.3,524.1 L165.6,520.4 L166,521.2 L166.3,521.1 L166.6,518.4 L167,523.8 L167.3,531 L167.6,525.7 L168,524 L168.3,522.3 L168.7,522.4 L169,523.2 L169.3,524 L169.7,521.6 L170,522.3 L170.3,521.8 L170.7,523.4 L171,524.4 L171.3,524.9 L171.7,521.5 L172,520.7 L172.3,523.2 L172.7,521.5 L173,521.2 L173.3,522.6 L173.7,522.6 L174,524.6 L174.4,519.3 L174.7,523.4 L175,520.7 L175.4,522.5 L175.7,518.5 L176,520.3 L176.4,519.6 L176.7,524.6 L177,519.4 L177.4,522.9 L177.7,519.3 L178,517.8 L178.4,520.8 L178.7,522.9 L179,520.6 L179.4,521.6 L179.7,521 L180,520.1 L180.4,523.1 L180.7,520.5 L181.1,521.8 L181.4,517.6 L181.7,518.8 L182.1,521.6 L182.4,518.9 L182.7,514.5 L183.1,520.2 L183.4,520.8 L183.7,518.8 L184.1,519.2 L184.4,518.3 L184.7,519.6 L185.1,521.4 L185.4,519.9 L185.7,518.6 L186.1,517.4 L186.4,517.9 L186.8,517.2 L187.1,520.2 L187.4,516.2 L187.8,516.4 L188.1,518.5 L188.4,518.8 L188.8,518.5 L189.1,516.8 L189.4,517.9 L189.8,514.4 L190.1,513.5 L190.4,513.8 L190.8,517.5 L191.1,520.3 L191.4,516.6 L191.8,515.5 L192.1,515.9 L192.5,520.6 L192.8,517.8 L193.1,516.8 L193.5,515.2 L193.8,517.2 L194.1,519.2 L194.5,517 L194.8,514.3 L195.1,518.4 L195.5,516.2 L195.8,519.6 L196.1,513.9 L196.5,514.7 L196.8,515.8 L197.1,511.4 L197.5,514.6 L197.8,516.4 L198.2,514.8 L198.5,515.7 L198.8,515.2 L199.2,512.7 L199.5,515.7 L199.8,512.9 L200.2,513.2 L200.5,512.3 L200.8,515 L201.2,513 L201.5,512.4 L201.8,508.6 L202.2,512 L202.5,515.4 L202.8,509 L203.2,513.1 L203.5,513 L203.9,509 L204.2,511.1 L204.5,514.5 L204.9,512.8 L205.2,513.1 L205.5,514.8 L205.9,511.8 L206.2,513.8 L206.5,509.4 L206.9,509.3 L207.2,514.5 L207.5,515 L207.9,514 L208.2,508.3 L208.5,510.1 L208.9,509 L209.2,514.8 L209.5,508.6 L209.9,507.3 L210.2,508.7 L210.6,510.9 L210.9,509.1 L211.2,509.3 L211.6,510.6 L211.9,510.1 L212.2,505.7 L212.6,506.2 L212.9,512.7 L213.2,510.2 L213.6,513.3 L213.9,513.1 L214.2,512.1 L214.6,509.5 L214.9,512.2 L215.2,508.3 L215.6,513.3 L215.9,510.6 L216.3,509.9 L216.6,507.6 L216.9,506.7 L217.3,507.3 L217.6,506.7 L217.9,505.7 L218.3,505 L218.6,507.6 L218.9,510.1 L219.3,512.1 L219.6,509.6 L219.9,507.1 L220.3,508.3 L220.6,510.8 L220.9,507.7 L221.3,508.8 L221.6,507.7 L222,506.8 L222.3,505 L222.6,507.4 L223,504.4 L223.3,503.3 L223.6,506.1 L224,507.8 L224.3,507.9 L224.6,507.5 L225,504.8 L225.3,504.6 L225.6,507.3 L226,509.7 L226.3,499.6 L226.6,506.1 L227,505.3 L227.3,504.2 L227.7,502.5 L228,502.3 L228.3,501 L228.7,503.8 L229,501.5 L229.3,502.6 L229.7,499.9 L230,505.2 L230.3,504.9 L230.7,500.6 L231,503.3 L231.3,501.9 L231.7,500.4 L232,502.1 L232.3,504 L232.7,505.6 L233,503 L233.3,504.4 L233.7,503.5 L234,503.2 L234.4,503.7 L234.7,498.6 L235,499.6 L235.4,504 L235.7,498.4 L236,498.2 L236.4,504.2 L236.7,498.8 L237,500 L237.4,500.6 L237.7,499.3 L238,501.6 L238.4,501.8 L238.7,498.2 L239,502.7 L239.4,498 L239.7,497.7 L240.1,498.3 L240.4,499 L240.7,496.2 L241.1,498.4 L241.4,493.7 L241.7,496.2 L242.1,495.8 L242.4,495.9 L242.7,497 L243.1,497.7 L243.4,495.7 L243.7,496.7 L244.1,493.9 L244.4,495.4 L244.7,498.1 L245.1,495.3 L245.4,495.3 L245.8,495.8 L246.1,497.3 L246.4,496.6 L246.8,495.3 L247.1,493.5 L247.4,495.3 L247.8,489.9 L248.1,494.7 L248.4,493.5 L248.8,495.4 L249.1,494.4 L249.4,496.4 L249.8,493.3 L250.1,490.2 L250.4,493.1 L250.8,492.6 L251.1,493 L251.5,495 L251.8,491.8 L252.1,493.6 L252.5,494.2 L252.8,494.3 L253.1,489.4 L253.5,491.7 L253.8,490.8 L254.1,491.2 L254.5,490.2 L254.8,490.7 L255.1,492.5 L255.5,493.8 L255.8,492.3 L256.1,489.1 L256.5,492 L256.8,488.9 L257.1,489.4 L257.5,491.6 L257.8,489.4 L258.2,490.6 L258.5,489.4 L258.8,487.8 L259.2,489.3 L259.5,488.5 L259.8,491.2 L260.2,491.7 L260.5,491.2 L260.8,487.6 L261.2,490.6 L261.5,489.1 L261.8,488.8 L262.2,488.3 L262.5,487.1 L262.8,487.7 L263.2,488.5 L263.5,489.3 L263.9,488.1 L264.2,487.1 L264.5,486.2 L264.9,486.2 L265.2,488.2 L265.5,487.3 L265.9,486.5 L266.2,484.2 L266.5,483.5 L266.9,485.9 L267.2,486.1 L267.5,486.4 L267.9,485.3 L268.2,484.1 L268.5,482.7 L268.9,483.1 L269.2,481.7 L269.6,483.8 L269.9,484.2 L270.2,484.9 L270.6,481.8 L270.9,481.5 L271.2,483.1 L271.6,483 L271.9,480.7 L272.2,481.2 L272.6,481.8 L272.9,481.3 L273.2,481.6 L273.6,481.1 L273.9,480.3 L274.2,480.7 L274.6,480.2 L274.9,480.8 L275.3,478.7 L275.6,478.9 L275.9,478.4 L276.3,478.3 L276.6,478.5 L276.9,478.4 L277.3,476.2 L277.6,477.6 L277.9,477.2 L278.3,476.7 L278.6,475.9 L278.9,476 L279.3,475.2 L279.6,473.4 L279.9,473.3 L280.3,473 L280.6,472.4 L281,471.8 L281.3,471.7 L281.6,470.3 L282,469.6 L282.3,468.8 L282.6,468.5 L283,468 L283.3,466.7 L283.6,466.3 L284,465.2 L284.3,465 L284.6,462.9 L285,462.6 L285.3,462.2 L285.6,460.8 L286,459.5 L286.3,458.6 L286.6,458 L287,456.7 L287.3,456.1 L287.7,454.7 L288,453.3 L288.3,452.1 L288.7,451.2 L289,450.1 L289.3,448.3 L289.7,446.7 L290,445.3 L290.3,444.4 L290.7,443.4 L291,441.1 L291.3,439.7 L291.7,437.7 L292,436.2 L292.3,433.5 L292.7,431.8 L293,429.1 L293.4,426.8 L293.7,424.8 L294,422.2 L294.4,419.8 L294.7,417.5 L295,415 L295.4,412.9 L295.7,410.2 L296,407 L296.4,404.5 L296.7,401.8 L297,399.1 L297.4,397.2 L297.7,393.9 L298,391.9 L298.4,389.6 L298.7,387.6 L299.1,384.4 L299.4,382 L299.7,379.7 L300.1,377.2 L300.4,375.6 L300.7,373.5 L301.1,369.9 L301.4,368.1 L301.7,366.6 L302.1,363.8 L302.4,361.5 L302.7,359.6 L303.1,357.4 L303.4,355.2 L303.7,353.1 L304.1,351.7 L304.4,348.5 L304.8,347.6 L305.1,345.5 L305.4,345.2 L305.8,342.9 L306.1,342.2 L306.4,338.8 L306.8,339 L307.1,337.1 L307.4,337 L307.8,337.7 L308.1,336.5 L308.4,336.9 L308.8,335.6 L309.1,337.8 L309.4,338.1 L309.8,337.1 L310.1,337.8 L310.4,338.9 L310.8,340.4 L311.1,342.5 L311.5,343 L311.8,345.1 L312.1,346.7 L312.5,348.8 L312.8,350.4 L313.1,351.8 L313.5,354.4 L313.8,355.8 L314.1,358.8 L314.5,360.8 L314.8,362.7 L315.1,365 L315.5,367.5 L315.8,369 L316.1,372.2 L316.5,373.8 L316.8,376.7 L317.2,378.6 L317.5,381.5 L317.8,382.9 L318.2,385.7 L318.5,387.9 L318.8,390.1 L319.2,393.1 L319.5,395.4 L319.8,397.8 L320.2,400.6 L320.5,403.1 L320.8,405.9 L321.2,408.6 L321.5,411.6 L321.8,413.8 L322.2,415.9 L322.5,418.8 L322.9,421 L323.2,423.2 L323.5,425.5 L323.9,428.9 L324.2,430.7 L324.5,433.4 L324.9,434.7 L325.2,436.5 L325.5,439.2 L325.9,440.4 L326.2,441.9 L326.5,443.5 L326.9,444.7 L327.2,446.7 L327.5,447.5 L327.9,449.3 L328.2,450.1 L328.6,452.5 L328.9,453.3 L329.2,454.5 L329.6,454.7 L329.9,456.3 L330.2,457.2 L330.6,458.1 L330.9,459 L331.2,460.7 L331.6,461.5 L331.9,462.1 L332.2,462.9 L332.6,463.8 L332.9,464.7 L333.2,465.6 L333.6,466.1 L333.9,466.9 L334.2,467 L334.6,468.8 L334.9,470.1 L335.3,470.2 L335.6,471.9 L335.9,471.4 L336.3,472.3 L336.6,473.7 L336.9,473.8 L337.3,473.6 L337.6,474.8 L337.9,474.9 L338.3,476.3 L338.6,476.8 L338.9,476.4 L339.3,477.3 L339.6,478.7 L339.9,478.8 L340.3,478.8 L340.6,478.3 L341,478.2 L341.3,478.3 L341.6,480.1 L342,478.9 L342.3,480.1 L342.6,481.7 L343,479.4 L343.3,480.9 L343.6,480.3 L344,481.2 L344.3,482.2 L344.6,481.2 L345,481 L345.3,482.1 L345.6,483.2 L346,483 L346.3,482.6 L346.7,484.5 L347,483.3 L347.3,482.9 L347.7,484.8 L348,487.6 L348.3,485.4 L348.7,485.6 L349,485 L349.3,485.5 L349.7,485.3 L350,487.1 L350.3,486.5 L350.7,486.4 L351,488.7 L351.3,486.5 L351.7,489.1 L352,488.5 L352.4,487.5 L352.7,488.7 L353,488.8 L353.4,489.7 L353.7,489.4 L354,492.2 L354.4,491.9 L354.7,492 L355,489.1 L355.4,489.9 L355.7,492.4 L356,492.2 L356.4,491.4 L356.7,491.3 L357,493.1 L357.4,489.3 L357.7,490.2 L358.1,489.9 L358.4,493.7 L358.7,490.8 L359.1,492 L359.4,494.9 L359.7,493 L360.1,493.6 L360.4,493.6 L360.7,494.7 L361.1,497.5 L361.4,492.7 L361.7,493.7 L362.1,497 L362.4,498.8 L362.7,494.9 L363.1,497 L363.4,496.5 L363.7,496.4 L364.1,493 L364.4,492.2 L364.8,495.3 L365.1,495.6 L365.4,495.7 L365.8,493.9 L366.1,498.4 L366.4,496.5 L366.8,501.4 L367.1,497.1 L367.4,497.4 L367.8,498.5 L368.1,496.7 L368.4,495.3 L368.8,496 L369.1,497.4 L369.4,496.8 L369.8,501.6 L370.1,497.7 L370.5,499.5 L370.8,500.2 L371.1,499.2 L371.5,496.6 L371.8,499.4 L372.1,501 L372.5,499.8 L372.8,499.3 L373.1,494.9 L373.5,496.4 L373.8,498.8 L374.1,500.1 L374.5,501.6 L374.8,499.7 L375.1,500.4 L375.5,498.1 L375.8,501.4 L376.2,502.4 L376.5,500.7 L376.8,502.9 L377.2,500.7 L377.5,499.9 L377.8,500.4 L378.2,505.7 L378.5,498.6 L378.8,501.4 L379.2,501 L379.5,502 L379.8,498.7 L380.2,503.2 L380.5,504 L380.8,502 L381.2,501.4 L381.5,502.6 L381.9,504.9 L382.2,499.9 L382.5,505.6 L382.9,503 L383.2,505.1 L383.5,501.9 L383.9,507.6 L384.2,505.1 L384.5,507.9 L384.9,503.3 L385.2,502.5 L385.5,506.6 L385.9,506.5 L386.2,505.6 L386.5,507.6 L386.9,506.3 L387.2,504.5 L387.5,500.8 L387.9,499.5 L388.2,506 L388.6,507.2 L388.9,504 L389.2,506.8 L389.6,505.8 L389.9,506.2 L390.2,508.5 L390.6,503.4 L390.9,506.8 L391.2,508.1 L391.6,506.8 L391.9,507.4 L392.2,504.8 L392.6,507.3 L392.9,509 L393.2,509.7 L393.6,506.6 L393.9,509.6 L394.3,509.2 L394.6,509.9 L394.9,508.7 L395.3,510 L395.6,509.5 L395.9,514.4 L396.3,509.4 L396.6,511.6 L396.9,509.8 L397.3,506.2 L397.6,510.2 L397.9,512.8 L398.3,512.2 L398.6,512.2 L398.9,508.8 L399.3,510.8 L399.6,507.6 L400,514.2 L400.3,515.1 L400.6,509.4 L401,509.9 L401.3,508.5 L401.6,509.4 L402,510.4 L402.3,509 L402.6,510.5 L403,513.4 L403.3,511.9 L403.6,513.9 L404,512.5 L404.3,512.9 L404.6,510.1 L405,514.6 L405.3,511 L405.7,512.1 L406,510.5 L406.3,514.3 L406.7,511.6 L407,514.8 L407.3,518.6 L407.7,515.8 L408,509.5 L408.3,515.9 L408.7,515.5 L409,516.3 L409.3,516.2 L409.7,517.9 L410,518 L410.3,515.7 L410.7,512.8 L411,515.1 L411.3,517.6 L411.7,512.2 L412,515.8 L412.4,512.4 L412.7,518.3 L413,521.2 L413.4,519.5 L413.7,516.3 L414,518.7 L414.4,520.5 L414.7,521.6 L415,521.4 L415.4,520.7 L415.7,516 L416,517.3 L416.4,519.1 L416.7,518.5 L417,514 L417.4,517.3 L417.7,516.9 L418.1,518.9 L418.4,519.7 L418.7,515.9 L419.1,516.9 L419.4,519.3 L419.7,517.1 L420.1,519 L420.4,517.7 L420.7,517.8 L421.1,521.6 L421.4,520 L421.7,518.8 L422.1,523.4 L422.4,520.3 L422.7,520.3 L423.1,520.6 L423.4,527.5 L423.8,523.5 L424.1,523.2 L424.4,520.6 L424.8,523 L425.1,524.2 L425.4,519.3 L425.8,522.1 L426.1,525.6 L426.4,526.6 L426.8,523.2 L427.1,527.3 L427.4,521.6 L427.8,524.4 L428.1,524.1 L428.4,520.4 L428.8,524.5 L429.1,520.4 L429.5,521 L429.8,522.6 L430.1,520.4 L430.5,525.4 L430.8,522.9 L431.1,520.6 L431.5,523.7 L431.8,523.8 L432.1,521.4 L432.5,522.3 L432.8,525.9 L433.1,526.4 L433.5,521.1 L433.8,526 L434.1,527.1 L434.5,527.6 L434.8,524.2 L435.2,523 L435.5,524.5 L435.8,523.6 L436.2,524.4 L436.5,523.9 L436.8,524.6 L437.2,524.4 L437.5,525.6 L437.8,526.2 L438.2,525.4 L438.5,524.7 L438.8,529.5 L439.2,529 L439.5,527.8 L439.8,524.7 L440.2,527.7 L440.5,526.6 L440.8,528.1 L441.2,527.7 L441.5,532.8 L441.9,528.2 L442.2,525 L442.5,529.4 L442.9,530.5 L443.2,531 L443.5,522.4 L443.9,524.6 L444.2,525.7 L444.5,524 L444.9,527.7 L445.2,529.7 L445.5,530.9 L445.9,530.8 L446.2,528.9 L446.5,532.1 L446.9,529.9 L447.2,522.6 L447.6,527.1 L447.9,527.2 L448.2,529.5 L448.6,528.4 L448.9,528.4 L449.2,532.3 L449.6,528.3 L449.9,526.2 L450.2,529.7 L450.6,531.3 L450.9,529.9 L451.2,529.9 L451.6,528.8 L451.9,527 L452.2,528.1 L452.6,527.7 L452.9,532.8 L453.3,530.5 L453.6,533.8 L453.9,531.1 L454.3,528.8 L454.6,531.1 L454.9,531.7 L455.3,534.3 L455.6,527.3 L455.9,529.7 L456.3,532.3 L456.6,530.2 L456.9,531.8 L457.3,531.3 L457.6,535.1 L457.9,535.5 L458.3,528.1 L458.6,528.1 L459,530.1 L459.3,532.1 L459.6,532.3 L460,531.6 L460.3,534 L460.6,535.2 L461,533.7 L461.3,532.6 L461.6,533.3 L462,531.6 L462.3,535.1 L462.6,535.8 L463,532 L463.3,536.8 L463.6,534.4 L464,535.9 L464.3,534.5 L464.6,533.9 L465,535.9 L465.3,532.6 L465.7,533.7 L466,531.9 L466.3,535.5 L466.7,534.6 L467,534.2 L467.3,533.8 L467.7,536.5 L468,536.2 L468.3,535.1 L468.7,534.4 L469,539.5 L469.3,539.8 L469.7,534 L470,538.2 L470.3,537.8 L470.7,537.1 L471,537.4 L471.4,533.5 L471.7,541.5 L472,542.2 L472.4,537.6 L472.7,536.9 L473,537.3 L473.4,535.6 L473.7,538.1 L474,537.4 L474.4,534.9 L474.7,535.9 L475,535.9 L475.4,536 L475.7,536.8 L476,539.1 L476.4,537.3 L476.7,534.3 L477.1,540.7 L477.4,537.5 L477.7,541.4 L478.1,539.6 L478.4,539.9 L478.7,537 L479.1,538.7 L479.4,538.1 L479.7,538.7 L480.1,540.2 L480.4,538.6 L480.7,541.1 L481.1,536.6 L481.4,536.6 L481.7,540.2 L482.1,541.1 L482.4,542.5 L482.8,544.1 L483.1,541.8 L483.4,542.1 L483.8,541.3 L484.1,540.9 L484.4,540.5 L484.8,541 L485.1,539.7 L485.4,540.4 L485.8,542.8 L486.1,542.6 L486.4,544.1 L486.8,540.9 L487.1,540.6 L487.4,542.5 L487.8,540.1 L488.1,539.6 L488.4,543.1 L488.8,541.7 L489.1,544.1 L489.5,542.9 L489.8,541.5 L490.1,540.1 L490.5,545 L490.8,543.1 L491.1,540.9 L491.5,539.3 L491.8,539.8 L492.1,541.9 L492.5,546 L492.8,541.9 L493.1,543.9 L493.5,544.3 L493.8,536.5 L494.1,539.8 L494.5,545.4 L494.8,539.9 L495.2,546 L495.5,544.9 L495.8,540.8 L496.2,548.1 L496.5,545.2 L496.8,548.3 L497.2,546.1 L497.5,543.5 L497.8,547.4 L498.2,549.8 L498.5,549 L498.8,543.5 L499.2,546.7 L499.5,543.5 L499.8,544.2 L500.2,548.9 L500.5,543.6 L500.9,551.4 L501.2,544 L501.5,543.1 L501.9,547.9 L502.2,546.7 L502.5,546.6 L502.9,545 L503.2,548.5 L503.5,548.2 L503.9,547.4 L504.2,545.8 L504.5,544.1 L504.9,547.3 L505.2,543.1 L505.5,545.8 L505.9,549.4 L506.2,550.2 L506.6,547.9 L506.9,542.7 L507.2,549 L507.6,551.1 L507.9,549.5 L508.2,552.1 L508.6,552.1 L508.9,546.1 L509.2,548.4 L509.6,548.5 L509.9,553.2 L510.2,553 L510.6,550.8 L510.9,551.6 L511.2,552.6 L511.6,549.3 L511.9,549.9 L512.2,550.5 L512.6,549.9 L512.9,550.1 L513.3,551.5 L513.6,548.5 L513.9,548.3 L514.3,552.8 L514.6,555.4 L514.9,556.6 L515.3,548.7 L515.6,552.2 L515.9,550.4 L516.3,550.8 L516.6,551.7 L516.9,553.4 L517.3,554.1 L517.6,547.6 L517.9,550.6 L518.3,555.3 L518.6,553.9 L519,549.8 L519.3,550.6 L519.6,551.4 L520,555.7 L520.3,558.2 L520.6,552.2 L521,554.8 L521.3,553.8 L521.6,555.5 L522,554.2 L522.3,552 L522.6,552.8 L523,553.1 L523.3,558 L523.6,554 L524,556.2 L524.3,553.7 L524.7,553.7 L525,555.9 L525.3,554.6"/></g>
<path d="M90.6,816 L90.7,804.5 L90.9,814.5 L91,801.8 L91.2,800.1 L91.3,815.5 L91.5,803.6 L91.6,811.3 L91.8,808.4 L91.9,817.9 L92,812.2 L92.2,816 L92.3,810.7 L92.5,800.9 L92.6,819.1 L92.8,807.4 L92.9,810.7 L93.1,810.3 L93.2,801.5 L93.3,813.5 L93.5,806.5 L93.6,800.3 L93.8,792.5 L93.9,782.6 L94.1,805.9 L94.2,808.5 L94.4,798.8 L94.5,853.8 L94.7,808.2 L94.8,812.3 L94.9,810.1 L95.1,808.4 L95.2,805.4 L95.4,803.2 L95.5,804.8 L95.7,811.6 L95.8,807.2 L96,816.2 L96.1,803.9 L96.2,802 L96.4,814.2 L96.5,815.2 L96.7,802 L96.8,815.2 L97,805.6 L97.1,816.6 L97.3,821.6 L97.4,807.2 L97.5,800 L97.7,809.2 L97.8,800.4 L98,813.3 L98.1,804.5 L98.3,811.7 L98.4,806.9 L98.6,812.2 L98.7,813.2 L98.8,810.4 L99,811.8 L99.1,814.4 L99.3,797.7 L99.4,812.2 L99.6,810.6 L99.7,816.5 L99.9,808.5 L100,813.8 L100.2,799.5 L100.3,814.9 L100.4,833 L100.6,811.1 L100.7,813.3 L100.9,802 L101,806.8 L101.2,809.7 L101.3,805.7 L101.5,806.3 L101.6,813.5 L101.7,809.8 L101.9,806.5 L102,809.8 L102.2,815 L102.3,817.3 L102.5,813.9 L102.6,811.3 L102.8,801.1 L102.9,805.7 L103,797.3 L103.2,803.4 L103.3,798.4 L103.5,801.5 L103.6,815 L103.8,763.4 L103.9,807.5 L104.1,807.7 L104.2,800.3 L104.3,806.5 L104.5,812.6 L104.6,811.8 L104.8,809.5 L104.9,811.8 L105.1,799 L105.2,810.5 L105.4,819.3 L105.5,809.3 L105.7,798.2 L105.8,795.9 L105.9,804.2 L106.1,810.8 L106.2,818.1 L106.4,808.4 L106.5,809.1 L106.7,811.2 L106.8,802.6 L107,808.2 L107.1,809.9 L107.2,806.1 L107.4,797.9 L107.5,813.6 L107.7,819 L107.8,809.2 L108,794 L108.1,803.5 L108.3,805.7 L108.4,812.5 L108.5,802.1 L108.7,805.5 L108.8,812.4 L109,813.6 L109.1,826.1 L109.3,793.6 L109.4,800.4 L109.6,810.7 L109.7,803.1 L109.8,807.6 L110,781.6 L110.1,808.4 L110.3,809.2 L110.4,801.3 L110.6,803.6 L110.7,808.4 L110.9,798 L111,789.5 L111.1,825.8 L111.3,798.8 L111.4,812 L111.6,797.3 L111.7,811.6 L111.9,796.4 L112,811.3 L112.2,808 L112.3,799.6 L112.5,802.5 L112.6,808.3 L112.7,808.2 L112.9,807.8 L113,803.5 L113.2,813.1 L113.3,795.7 L113.5,797.4 L113.6,797.8 L113.8,813.3 L113.9,794.8 L114,802.2 L114.2,802.2 L114.3,804.7 L114.5,803 L114.6,803.6 L114.8,786.1 L114.9,810.5 L115.1,806.6 L115.2,821.2 L115.3,808.5 L115.5,795.4 L115.6,787 L115.8,806.9 L115.9,809.2 L116.1,814 L116.2,808.2 L116.4,810.1 L116.5,809.1 L116.6,825.9 L116.8,811.6 L116.9,806.6 L117.1,797.2 L117.2,813.7 L117.4,806.7 L117.5,801.2 L117.7,786.5 L117.8,795 L118,807.3 L118.1,805 L118.2,807.5 L118.4,818 L118.5,802.1 L118.7,808.8 L118.8,798.5 L119,793.9 L119.1,791.7 L119.3,800.8 L119.4,729 L119.5,792 L119.7,808.7 L119.8,829 L120,825.9 L120.1,812.5 L120.3,810.8 L120.4,802.9 L120.6,817 L120.7,806.7 L120.8,806.7 L121,811 L121.1,808.2 L121.3,806.3 L121.4,819.7 L121.6,764 L121.7,796.9 L121.9,808.9 L122,806.7 L122.1,813.3 L122.3,806.9 L122.4,769.5 L122.6,807 L122.7,797.4 L122.9,802.9 L123,806.9 L123.2,793.4 L123.3,777.1 L123.5,798.3 L123.6,799.7 L123.7,785.5 L123.9,801.8 L124,804.3 L124.2,798.6 L124.3,805.3 L124.5,800.5 L124.6,797.2 L124.8,806.8 L124.9,819.1 L125,817.5 L125.2,802.2 L125.3,798.6 L125.5,806.2 L125.6,807.7 L125.8,819.8 L125.9,800.5 L126.1,785.1 L126.2,792 L126.3,789.4 L126.5,800.6 L126.6,799.3 L126.8,801.6 L126.9,803.3 L127.1,805.3 L127.2,792.5 L127.4,803.4 L127.5,802.3 L127.6,800.1 L127.8,800.4 L127.9,790.9 L128.1,805.6 L128.2,793.9 L128.4,802.3 L128.5,791 L128.7,802.7 L128.8,805.1 L128.9,805.1 L129.1,796.7 L129.2,795.3 L129.4,806.9 L129.5,797.6 L129.7,813.3 L129.8,776.1 L130,803.6 L130.1,800.7 L130.3,804.8 L130.4,796.3 L130.5,805.4 L130.7,812.2 L130.8,798.7 L131,769.9 L131.1,805.6 L131.3,804.4 L131.4,805.6 L131.6,780.5 L131.7,798.2 L131.8,806.5 L132,798.8 L132.1,802.3 L132.3,806.8 L132.4,805.7 L132.6,800.3 L132.7,803 L132.9,811.7 L133,822.4 L133.1,794.7 L133.3,812.5 L133.4,795.2 L133.6,802.4 L133.7,793.3 L133.9,800.2 L134,791.1 L134.2,805.6 L134.3,803 L134.4,803.7 L134.6,804.9 L134.7,807.5 L134.9,805.9 L135,801.9 L135.2,800.5 L135.3,790.7 L135.5,794.9 L135.6,808.9 L135.8,802.9 L135.9,806.1 L136,799.9 L136.2,810.8 L136.3,813.3 L136.5,804.7 L136.6,802.6 L136.8,800.4 L136.9,803.6 L137.1,804.8 L137.2,801.8 L137.3,789 L137.5,805 L137.6,803 L137.8,795.6 L137.9,788.5 L138.1,761.4 L138.2,804.1 L138.4,790.6 L138.5,803.3 L138.6,787.1 L138.8,802.8 L138.9,799.5 L139.1,799.5 L139.2,803.4 L139.4,810.1 L139.5,799.1 L139.7,804.4 L139.8,809 L139.9,782.1 L140.1,799.5 L140.2,788.3 L140.4,771 L140.5,825.6 L140.7,798.3 L140.8,791.3 L141,795.5 L141.1,801.5 L141.3,796.4 L141.4,776.7 L141.5,801.7 L141.7,789.6 L141.8,798.6 L142,791.5 L142.1,787.8 L142.3,803.3 L142.4,810.4 L142.6,748 L142.7,823.2 L142.8,799.9 L143,801.7 L143.1,800 L143.3,791.2 L143.4,804.3 L143.6,799.7 L143.7,803.7 L143.9,799.8 L144,796 L144.1,810.9 L144.3,801.2 L144.4,797 L144.6,805.5 L144.7,779.3 L144.9,795.7 L145,812.6 L145.2,787.3 L145.3,801.2 L145.4,779.5 L145.6,798.6 L145.7,804.3 L145.9,791.1 L146,791.7 L146.2,804.5 L146.3,799.8 L146.5,805.1 L146.6,801.1 L146.7,777.4 L146.9,777.3 L147,768 L147.2,800.8 L147.3,787.8 L147.5,785.2 L147.6,793.8 L147.8,784.8 L147.9,800.2 L148.1,784.6 L148.2,804.8 L148.3,781.9 L148.5,798.6 L148.6,797.2 L148.8,780.9 L148.9,801.5 L149.1,800.8 L149.2,803.6 L149.4,807.8 L149.5,809 L149.6,802.7 L149.8,801.2 L149.9,794.7 L150.1,786.3 L150.2,731.3 L150.4,793 L150.5,792.1 L150.7,793.7 L150.8,805.5 L150.9,794.2 L151.1,810.1 L151.2,802 L151.4,788.2 L151.5,801 L151.7,804.8 L151.8,788.2 L152,798.3 L152.1,793 L152.2,797.4 L152.4,793.2 L152.5,798.6 L152.7,801.9 L152.8,800.4 L153,785.7 L153.1,804.7 L153.3,796.5 L153.4,792 L153.6,795.1 L153.7,815.3 L153.8,793.4 L154,790 L154.1,800.6 L154.3,795.1 L154.4,783.9 L154.6,798.2 L154.7,812.5 L154.9,786.2 L155,793.6 L155.1,802.6 L155.3,806 L155.4,797.7 L155.6,810.7 L155.7,799.1 L155.9,796.5 L156,783.7 L156.2,808.1 L156.3,810.1 L156.4,778.9 L156.6,809.2 L156.7,786 L156.9,788.3 L157,791.7 L157.2,800.2 L157.3,794.6 L157.5,794.3 L157.6,794.6 L157.7,792.9 L157.9,798.9 L158,764.9 L158.2,785.4 L158.3,794.4 L158.5,786.5 L158.6,796.6 L158.8,792.6 L158.9,800 L159.1,794.2 L159.2,799 L159.3,795.4 L159.5,799.7 L159.6,761.7 L159.8,765.6 L159.9,795.6 L160.1,795.7 L160.2,791.6 L160.4,807.7 L160.5,801.9 L160.6,804.3 L160.8,792.6 L160.9,792.4 L161.1,766.9 L161.2,804 L161.4,790 L161.5,798.3 L161.7,795.2 L161.8,790.6 L161.9,800.6 L162.1,806.5 L162.2,799.4 L162.4,790.3 L162.5,795.5 L162.7,782.1 L162.8,798.3 L163,757 L163.1,791.1 L163.2,800 L163.4,791.5 L163.5,837 L163.7,789.9 L163.8,810.1 L164,785.4 L164.1,790.5 L164.3,794 L164.4,828.3 L164.5,790.6 L164.7,795.3 L164.8,799.7 L165,755.8 L165.1,800.2 L165.3,797.1 L165.4,803.9 L165.6,804 L165.7,798 L165.9,791.1 L166,790.1 L166.1,776.8 L166.3,799.4 L166.4,796.1 L166.6,791.4 L166.7,797.5 L166.9,804.2 L167,805.2 L167.2,794 L167.3,791.5 L167.4,802.2 L167.6,799 L167.7,798.3 L167.9,817.9 L168,788.5 L168.2,805.7 L168.3,802.8 L168.5,812.7 L168.6,783 L168.7,791.6 L168.9,812.5 L169,794.6 L169.2,797.2 L169.3,794.5 L169.5,802.2 L169.6,798.9 L169.8,792.4 L169.9,794.9 L170,813.6 L170.2,796.6 L170.3,781.1 L170.5,777.2 L170.6,798 L170.8,780.3 L170.9,794.5 L171.1,787.9 L171.2,797.1 L171.4,787.5 L171.5,773.7 L171.6,811.9 L171.8,792.8 L171.9,791.6 L172.1,813.6 L172.2,802.1 L172.4,799.4 L172.5,791 L172.7,793.3 L172.8,798.7 L172.9,744.5 L173.1,797.4 L173.2,795 L173.4,787.2 L173.5,789 L173.7,797.5 L173.8,789.6 L174,794.6 L174.1,793.8 L174.2,790.5 L174.4,734.3 L174.5,796.8 L174.7,796.8 L174.8,786.6 L175,780.2 L175.1,797.2 L175.3,781.8 L175.4,808.3 L175.5,751.3 L175.7,800.1 L175.8,791.4 L176,792.3 L176.1,776.2 L176.3,778.7 L176.4,764 L176.6,806.5 L176.7,785.8 L176.9,783.4 L177,793.4 L177.1,799.8 L177.3,790.9 L177.4,789 L177.6,791 L177.7,793.8 L177.9,763 L178,793.3 L178.2,796.8 L178.3,797.4 L178.4,797.6 L178.6,794.9 L178.7,803.4 L178.9,791 L179,790.1 L179.2,800.9 L179.3,792.9 L179.5,781 L179.6,781.6 L179.7,790.6 L179.9,779.2 L180,796.7 L180.2,795.2 L180.3,808.2 L180.5,772.5 L180.6,787.6 L180.8,779.4 L180.9,798 L181,796 L181.2,786.3 L181.3,800.2 L181.5,781 L181.6,794.4 L181.8,791.7 L181.9,789.8 L182.1,793.1 L182.2,755.7 L182.3,784 L182.5,785.4 L182.6,774.8 L182.8,768.8 L182.9,795.3 L183.1,801.6 L183.2,800.1 L183.4,781.3 L183.5,746.5 L183.7,793.2 L183.8,782.9 L183.9,755.9 L184.1,795.8 L184.2,787.9 L184.4,777.3 L184.5,789.6 L184.7,720.9 L184.8,791.7 L185,715 L185.1,774.8 L185.2,792.6 L185.4,844 L185.5,785.6 L185.7,777.7 L185.8,791.6 L186,788.6 L186.1,789.2 L186.3,784.1 L186.4,748 L186.5,783.2 L186.7,796.6 L186.8,774.1 L187,786.3 L187.1,785.5 L187.3,793.3 L187.4,789 L187.6,783.3 L187.7,812.6 L187.8,788.2 L188,789 L188.1,762.3 L188.3,773.4 L188.4,789.8 L188.6,783.7 L188.7,790.8 L188.9,767 L189,797.5 L189.2,792.9 L189.3,791.8 L189.4,776.9 L189.6,787.2 L189.7,787.5 L189.9,793.6 L190,791.4 L190.2,768.1 L190.3,787.7 L190.5,787.1 L190.6,783.2 L190.7,788.9 L190.9,779.8 L191,792.2 L191.2,775.7 L191.3,778.3 L191.5,676.5 L191.6,790.1 L191.8,777.1 L191.9,785.3 L192,774.3 L192.2,785.8 L192.3,781.7 L192.5,796.7 L192.6,800.1 L192.8,778.4 L192.9,791.1 L193.1,771.1 L193.2,771 L193.3,796.8 L193.5,771.3 L193.6,780.4 L193.8,723.2 L193.9,790.8 L194.1,832 L194.2,776.5 L194.4,787.1 L194.5,804.3 L194.7,746.1 L194.8,786.1 L194.9,777.7 L195.1,780.3 L195.2,784.8 L195.4,790.4 L195.5,786 L195.7,783.6 L195.8,782.8 L196,791.5 L196.1,791.5 L196.2,787 L196.4,747.8 L196.5,789.3 L196.7,774.3 L196.8,795.7 L197,793.6 L197.1,793.7 L197.3,776.3 L197.4,753.6 L197.5,776.4 L197.7,788 L197.8,777.4 L198,694.4 L198.1,792.7 L198.3,777.2 L198.4,790.2 L198.6,763.2 L198.7,772 L198.8,777.8 L199,776.8 L199.1,770.1 L199.3,779.8 L199.4,790.2 L199.6,788.8 L199.7,785.9 L199.9,774.5 L200,803.8 L200.1,792.6 L200.3,765.3 L200.4,782.1 L200.6,779.5 L200.7,786.3 L200.9,788.4 L201,786.5 L201.2,792.7 L201.3,713 L201.5,785.2 L201.6,784.7 L201.7,782.3 L201.9,789.6 L202,786.4 L202.2,770.3 L202.3,782.9 L202.5,797.9 L202.6,787.5 L202.8,789.6 L202.9,775.7 L203,796.8 L203.2,791.5 L203.3,779.2 L203.5,775.1 L203.6,785.1 L203.8,793.9 L203.9,775.7 L204.1,772.6 L204.2,735.8 L204.3,796.8 L204.5,771.4 L204.6,767.4 L204.8,771.3 L204.9,772.9 L205.1,786.3 L205.2,766 L205.4,781.9 L205.5,766.6 L205.6,777.2 L205.8,785 L205.9,792.3 L206.1,769.4 L206.2,780.4 L206.4,761.5 L206.5,784.9 L206.7,767.9 L206.8,761.4 L207,785.5 L207.1,768.6 L207.2,780.5 L207.4,784.5 L207.5,774.4 L207.7,773.2 L207.8,783.4 L208,816.1 L208.1,783.2 L208.3,784.2 L208.4,779.6 L208.5,771.3 L208.7,789.2 L208.8,771.8 L209,764.7 L209.1,800.9 L209.3,771.2 L209.4,753.2 L209.6,710.6 L209.7,793.4 L209.8,790.4 L210,780.2 L210.1,732.2 L210.3,776.2 L210.4,771.8 L210.6,783.7 L210.7,769.8 L210.9,778 L211,779.6 L211.1,779 L211.3,783.3 L211.4,779.1 L211.6,769.1 L211.7,769.2 L211.9,774.8 L212,789.3 L212.2,757.9 L212.3,776.4 L212.4,786.5 L212.6,777.9 L212.7,771.6 L212.9,778.4 L213,787.6 L213.2,773.4 L213.3,769.7 L213.5,788 L213.6,773.7 L213.8,753.5 L213.9,759.7 L214,749.3 L214.2,772.9 L214.3,785.1 L214.5,776.7 L214.6,784.5 L214.8,758.3 L214.9,760.9 L215.1,767.7 L215.2,773.9 L215.3,756.6 L215.5,778.3 L215.6,769.6 L215.8,764 L215.9,774.9 L216.1,772.1 L216.2,762.9 L216.4,772.2 L216.5,762.7 L216.6,794.2 L216.8,734.3 L216.9,771.5 L217.1,760.1 L217.2,774.2 L217.4,692 L217.5,772.4 L217.7,763.5 L217.8,773.9 L217.9,773.2 L218.1,755.1 L218.2,726.2 L218.4,762.2 L218.5,761.6 L218.7,756.7 L218.8,752.3 L219,775.1 L219.1,781.5 L219.3,775.8 L219.4,777.5 L219.5,780.5 L219.7,787.8 L219.8,789.5 L220,766.5 L220.1,769 L220.3,762.1 L220.4,774.9 L220.6,789.9 L220.7,773.9 L220.8,750.4 L221,775.7 L221.1,770.5 L221.3,765.5 L221.4,751.9 L221.6,775 L221.7,764.6 L221.9,779.2 L222,764.6 L222.1,771.9 L222.3,758.6 L222.4,797.4 L222.6,780.2 L222.7,680.5 L222.9,792.2 L223,758.1 L223.2,774.9 L223.3,758.3 L223.4,767 L223.6,765.4 L223.7,778.9 L223.9,752.2 L224,765.1 L224.2,779.4 L224.3,721.5 L224.5,764.9 L224.6,741 L224.8,712.7 L224.9,775.2 L225,758.8 L225.2,788.5 L225.3,750.5 L225.5,771.5 L225.6,793.2 L225.8,729.4 L225.9,773.2 L226.1,773.5 L226.2,769.9 L226.3,778.3 L226.5,773.1 L226.6,761.2 L226.8,760.6 L226.9,766.7 L227.1,793.5 L227.2,750.7 L227.4,781.7 L227.5,715.8 L227.6,772.1 L227.8,776 L227.9,776.3 L228.1,780.5 L228.2,757.1 L228.4,743.2 L228.5,756.5 L228.7,766.8 L228.8,771.4 L228.9,774.1 L229.1,762.7 L229.2,767.2 L229.4,766.7 L229.5,774.5 L229.7,735.5 L229.8,775 L230,780.3 L230.1,576 L230.2,788.8 L230.4,775.2 L230.5,765.5 L230.7,780.5 L230.8,774.9 L231,773.6 L231.1,775.2 L231.3,752.5 L231.4,752 L231.6,782.7 L231.7,766.3 L231.8,777.3 L232,766.4 L232.1,812 L232.3,767.8 L232.4,766.1 L232.6,749.3 L232.7,762.7 L232.9,728.5 L233,746.6 L233.1,736.3 L233.3,758.2 L233.4,763.5 L233.6,761.4 L233.7,772.4 L233.9,803.3 L234,739.6 L234.2,774.1 L234.3,668 L234.4,751.9 L234.6,766.2 L234.7,743.6 L234.9,759 L235,742.5 L235.2,737.8 L235.3,756.7 L235.5,773.2 L235.6,767.2 L235.7,762.5 L235.9,756.9 L236,766.7 L236.2,756.1 L236.3,779.3 L236.5,770.7 L236.6,763.6 L236.8,753.3 L236.9,755.6 L237.1,753.8 L237.2,757.7 L237.3,768 L237.5,747.7 L237.6,761.8 L237.8,761 L237.9,750.8 L238.1,769.6 L238.2,763.6 L238.4,762.3 L238.5,754.2 L238.6,718.9 L238.8,759.8 L238.9,744.7 L239.1,765.3 L239.2,734.9 L239.4,758.9 L239.5,769.7 L239.7,756.2 L239.8,752.1 L239.9,751 L240.1,759.4 L240.2,734.1 L240.4,757.6 L240.5,773.5 L240.7,716.7 L240.8,749.7 L241,759.6 L241.1,746.1 L241.2,746.7 L241.4,744.6 L241.5,763.3 L241.7,735 L241.8,753.7 L242,754.4 L242.1,756.3 L242.3,748.1 L242.4,757 L242.6,750.5 L242.7,746.9 L242.8,774.8 L243,763 L243.1,744.2 L243.3,739 L243.4,758.3 L243.6,777.5 L243.7,749.9 L243.9,760 L244,756.1 L244.1,763.2 L244.3,748.8 L244.4,736.7 L244.6,756.2 L244.7,756.1 L244.9,651 L245,762.9 L245.2,758.9 L245.3,754.4 L245.4,741.5 L245.6,758.5 L245.7,730.9 L245.9,738.6 L246,736.4 L246.2,741.5 L246.3,753.7 L246.5,750.4 L246.6,713 L246.7,752.5 L246.9,748.9 L247,748.7 L247.2,759.9 L247.3,755.6 L247.5,758.5 L247.6,744.4 L247.8,773.3 L247.9,734.4 L248,757 L248.2,718.1 L248.3,752.9 L248.5,740.6 L248.6,718.6 L248.8,755.9 L248.9,752.2 L249.1,747.9 L249.2,751.1 L249.4,752.4 L249.5,749.9 L249.6,746.5 L249.8,752 L249.9,787.1 L250.1,739.4 L250.2,716.4 L250.4,740.2 L250.5,742.7 L250.7,758.2 L250.8,757.7 L250.9,768 L251.1,747.1 L251.2,754.6 L251.4,763.1 L251.5,753.8 L251.7,762.6 L251.8,727.9 L252,755.5 L252.1,754.7 L252.2,736 L252.4,733.7 L252.5,753 L252.7,739.1 L252.8,754.9 L253,755.3 L253.1,750.1 L253.3,746.7 L253.4,745.7 L253.5,754 L253.7,766.1 L253.8,717.4 L254,748.5 L254.1,742.1 L254.3,737.8 L254.4,733.3 L254.6,742.1 L254.7,709 L254.9,748 L255,740.1 L255.1,734.5 L255.3,745.9 L255.4,736.8 L255.6,738 L255.7,754.4 L255.9,737.2 L256,687.3 L256.2,747.4 L256.3,733.9 L256.4,724.4 L256.6,770.1 L256.7,743.7 L256.9,750.7 L257,729.6 L257.2,733.1 L257.3,686.6 L257.5,749.4 L257.6,756.2 L257.7,723.1 L257.9,749.2 L258,731 L258.2,744.4 L258.3,748.9 L258.5,759.7 L258.6,742.4 L258.8,768.8 L258.9,727.9 L259,745 L259.2,747.1 L259.3,718.6 L259.5,731.6 L259.6,734.2 L259.8,745.7 L259.9,730.1 L260.1,737.1 L260.2,725.6 L260.4,737.3 L260.5,740.6 L260.6,740.3 L260.8,738.5 L260.9,746.3 L261.1,733.3 L261.2,740.5 L261.4,740.8 L261.5,752.4 L261.7,754.2 L261.8,746.1 L261.9,726.1 L262.1,748 L262.2,760.6 L262.4,761.5 L262.5,746.7 L262.7,709.9 L262.8,738.7 L263,753.5 L263.1,753.8 L263.2,738.8 L263.4,740.5 L263.5,776.5 L263.7,742.4 L263.8,717.3 L264,736.9 L264.1,746.4 L264.3,712.5 L264.4,748.6 L264.5,753.8 L264.7,747.9 L264.8,727.7 L265,728.4 L265.1,725.5 L265.3,743.7 L265.4,742.9 L265.6,739.2 L265.7,713.9 L265.8,741.7 L266,722.9 L266.1,736.2 L266.3,721.9 L266.4,744.8 L266.6,728.9 L266.7,735.2 L266.9,756.2 L267,712.1 L267.2,723.2 L267.3,735.7 L267.4,750.9 L267.6,748.7 L267.7,736.6 L267.9,737.4 L268,731.9 L268.2,701.6 L268.3,744.8 L268.5,732.9 L268.6,713 L268.7,723 L268.9,734.3 L269,755.3 L269.2,736.6 L269.3,740.3 L269.5,736.2 L269.6,713.5 L269.8,701 L269.9,733.3 L270,702.7 L270.2,733.1 L270.3,737.9 L270.5,693.4 L270.6,730 L270.8,726.5 L270.9,734 L271.1,753.4 L271.2,716.9 L271.3,746.6 L271.5,743.2 L271.6,750.6 L271.8,727.1 L271.9,650 L272.1,728.4 L272.2,734.4 L272.4,720.8 L272.5,721.8 L272.7,728.2 L272.8,734.8 L272.9,715.6 L273.1,725.9 L273.2,722.5 L273.4,731.3 L273.5,735.3 L273.7,712.6 L273.8,717.6 L274,724.5 L274.1,717.1 L274.2,739 L274.4,740.9 L274.5,744.3 L274.7,731.3 L274.8,715.1 L275,704.6 L275.1,730 L275.3,738.2 L275.4,722.5 L275.5,728.3 L275.7,738.6 L275.8,755.2 L276,714.6 L276.1,727.4 L276.3,737.9 L276.4,706.9 L276.6,713.5 L276.7,725.9 L276.8,718.5 L277,728.1 L277.1,719.6 L277.3,704.8 L277.4,709.6 L277.6,663 L277.7,691.2 L277.9,732.2 L278,726.8 L278.2,730.3 L278.3,732.2 L278.4,709.1 L278.6,709.2 L278.7,723 L278.9,734.3 L279,723.1 L279.2,719.1 L279.3,725.2 L279.5,698.3 L279.6,698.4 L279.7,723.6 L279.9,714.8 L280,723 L280.2,690.4 L280.3,696.9 L280.5,731.3 L280.6,721.6 L280.8,734.1 L280.9,710.6 L281,718.7 L281.2,723.3 L281.3,724.7 L281.5,716.7 L281.6,719.5 L281.8,715.8 L281.9,715 L282.1,715.7 L282.2,723.6 L282.3,701.3 L282.5,714 L282.6,690.5 L282.8,695 L282.9,707.9 L283.1,717.1 L283.2,711.6 L283.4,712.4 L283.5,679.8 L283.6,724.9 L283.8,679.8 L283.9,692.4 L284.1,711.3 L284.2,717.6 L284.4,708.7 L284.5,680 L284.7,699.4 L284.8,726.8 L285,692.8 L285.1,730.1 L285.2,693.8 L285.4,685.2 L285.5,703.3 L285.7,705.5 L285.8,714.5 L286,700.7 L286.1,700.1 L286.3,692.4 L286.4,719.2 L286.5,700.6 L286.7,689.8 L286.8,709.2 L287,716.3 L287.1,711.8 L287.3,690.6 L287.4,710.4 L287.6,714.6 L287.7,711.7 L287.8,704.6 L288,717.8 L288.1,695.7 L288.3,708.7 L288.4,698.5 L288.6,707.9 L288.7,700.7 L288.9,712.4 L289,696.7 L289.1,716 L289.3,696.3 L289.4,714.3 L289.6,696.8 L289.7,647.7 L289.9,681.9 L290,712.3 L290.2,706.8 L290.3,708.8 L290.5,695.2 L290.6,710 L290.7,701.7 L290.9,717.7 L291,730.5 L291.2,707.4 L291.3,697.4 L291.5,682.1 L291.6,713.7 L291.8,706 L291.9,693.4 L292,708.7 L292.2,709.5 L292.3,712.1 L292.5,717.4 L292.6,704.2 L292.8,675.9 L292.9,695.7 L293.1,695.6 L293.2,711.4 L293.3,685.4 L293.5,703.9 L293.6,708.1 L293.8,719.1 L293.9,697.7 L294.1,724.4 L294.2,710.8 L294.4,708.2 L294.5,732.1 L294.6,683.2 L294.8,708.1 L294.9,699.5 L295.1,703.8 L295.2,699.1 L295.4,691.5 L295.5,680.5 L295.7,703.1 L295.8,697.5 L296,670.7 L296.1,676.8 L296.2,721.1 L296.4,690.2 L296.5,620 L296.7,705 L296.8,678.6 L297,698 L297.1,703.3 L297.3,676.2 L297.4,695.4 L297.5,704.2 L297.7,705.7 L297.8,673.1 L298,681.6 L298.1,692.3 L298.3,693.6 L298.4,698.5 L298.6,700 L298.7,680.1 L298.8,704.6 L299,665.3 L299.1,705.3 L299.3,707.8 L299.4,703.5 L299.6,703 L299.7,703.7 L299.9,694.7 L300,694.9 L300.1,715.9 L300.3,712.8 L300.4,711.7 L300.6,714.9 L300.7,692.1 L300.9,717.1 L301,705.8 L301.2,655 L301.3,719.8 L301.4,707.3 L301.6,721.3 L301.7,698.6 L301.9,724.6 L302,722.9 L302.2,716.5 L302.3,728.7 L302.5,732.3 L302.6,736.9 L302.8,752.5 L302.9,722.6 L303,749.7 L303.2,742 L303.3,745.3 L303.5,745.1 L303.6,735.5 L303.8,749.7 L303.9,743.1 L304.1,743.9 L304.2,754.8 L304.3,759.4 L304.5,759.3 L304.6,764.7 L304.8,768 L304.9,769.7 L305.1,771.3 L305.2,775.1 L305.4,779.1 L305.5,774.7 L305.6,774.8 L305.8,792.9 L305.9,788.3 L306.1,778.8 L306.2,808.1 L306.4,798.4 L306.5,787 L306.7,784.1 L306.8,791.8 L306.9,792.8 L307.1,792.3 L307.2,798.6 L307.4,807.2 L307.5,857 L307.7,801 L307.8,793.1 L308,775 L308.1,801.4 L308.3,798.3 L308.4,791.4 L308.5,802.3 L308.7,800.6 L308.8,798.3 L309,799.8 L309.1,782.1 L309.3,765.4 L309.4,782.4 L309.6,782.9 L309.7,788.3 L309.8,778.6 L310,766.6 L310.1,776.1 L310.3,770.2 L310.4,766.9 L310.6,762.3 L310.7,762.3 L310.9,760.3 L311,755.5 L311.1,739.9 L311.3,745.2 L311.4,749.1 L311.6,717.2 L311.7,752.6 L311.9,744.4 L312,744.9 L312.2,738 L312.3,745.7 L312.4,718.8 L312.6,729.8 L312.7,720.6 L312.9,713.3 L313,727.1 L313.2,711.5 L313.3,717.4 L313.5,720.1 L313.6,709 L313.8,717.5 L313.9,685.4 L314,694 L314.2,711.1 L314.3,710.6 L314.5,701.2 L314.6,707.4 L314.8,693.9 L314.9,704.7 L315.1,704.5 L315.2,682.5 L315.3,702.3 L315.5,722.1 L315.6,688.2 L315.8,677.6 L315.9,686.3 L316.1,692.1 L316.2,688.4 L316.4,668.4 L316.5,699.4 L316.6,700.9 L316.8,677 L316.9,576 L317.1,713.8 L317.2,700.6 L317.4,701.2 L317.5,709.6 L317.7,690.7 L317.8,704.6 L317.9,715.1 L318.1,681.8 L318.2,677.6 L318.4,681.8 L318.5,687.2 L318.7,699.7 L318.8,719.2 L319,708.4 L319.1,728.2 L319.2,701.9 L319.4,700.6 L319.5,677.7 L319.7,701.8 L319.8,692.2 L320,693.4 L320.1,696.4 L320.3,727.5 L320.4,706.2 L320.6,699.7 L320.7,684.3 L320.8,691.1 L321,697.2 L321.1,707 L321.3,704.5 L321.4,704.5 L321.6,690.4 L321.7,708.1 L321.9,722.2 L322,685.7 L322.1,677.7 L322.3,701.5 L322.4,709 L322.6,782 L322.7,703.8 L322.9,713.4 L323,690 L323.2,679.4 L323.3,685.3 L323.4,708.6 L323.6,709.9 L323.7,698.3 L323.9,668.7 L324,693.2 L324.2,705.9 L324.3,710.9 L324.5,696.3 L324.6,694.1 L324.7,628 L324.9,696.8 L325,715.4 L325.2,705.5 L325.3,707.1 L325.5,705.3 L325.6,706.2 L325.8,690.1 L325.9,669.7 L326.1,669.4 L326.2,708.7 L326.3,714.4 L326.5,704.9 L326.6,696.2 L326.8,703.9 L326.9,687.8 L327.1,715.9 L327.2,704.9 L327.4,716.2 L327.5,711.8 L327.6,712 L327.8,712.7 L327.9,697 L328.1,717.7 L328.2,738.4 L328.4,715.8 L328.5,722.5 L328.7,713.2 L328.8,716.3 L328.9,720.9 L329.1,710.2 L329.2,703.5 L329.4,740.7 L329.5,701.5 L329.7,732.8 L329.8,705.7 L330,692.6 L330.1,718.2 L330.2,715.8 L330.4,692 L330.5,715 L330.7,734.3 L330.8,721.8 L331,711.5 L331.1,713.2 L331.3,718 L331.4,708.9 L331.6,710.1 L331.7,668.9 L331.8,714.1 L332,715.2 L332.1,721.4 L332.3,704.1 L332.4,714.2 L332.6,669 L332.7,739.7 L332.9,718 L333,721.8 L333.1,711.6 L333.3,734.9 L333.4,715.6 L333.6,715.5 L333.7,705.9 L333.9,703.8 L334,698.5 L334.2,713 L334.3,709.8 L334.4,737.8 L334.6,709.7 L334.7,760.1 L334.9,721.1 L335,704.3 L335.2,707 L335.3,725.1 L335.5,721.3 L335.6,723.4 L335.7,717.8 L335.9,703.6 L336,706.1 L336.2,752.6 L336.3,716.4 L336.5,720.1 L336.6,704 L336.8,707.1 L336.9,723.8 L337,717.7 L337.2,742.9 L337.3,729.5 L337.5,717 L337.6,721 L337.8,734.7 L337.9,725.2 L338.1,719.3 L338.2,702.2 L338.4,734.1 L338.5,724.4 L338.6,724.6 L338.8,715.7 L338.9,735.8 L339.1,722.8 L339.2,725.4 L339.4,701.6 L339.5,719.3 L339.7,724.2 L339.8,732.2 L339.9,737.6 L340.1,722.9 L340.2,733.4 L340.4,723.3 L340.5,722.3 L340.7,725.5 L340.8,706.9 L341,672.7 L341.1,741 L341.2,706.6 L341.4,719.5 L341.5,737 L341.7,710.7 L341.8,735.9 L342,704.7 L342.1,729.6 L342.3,732.2 L342.4,745.3 L342.5,739.6 L342.7,710.3 L342.8,734.9 L343,747.6 L343.1,714.4 L343.3,722.5 L343.4,737.1 L343.6,725.3 L343.7,717.9 L343.9,726.5 L344,714.7 L344.1,711.3 L344.3,735.8 L344.4,737.5 L344.6,738.2 L344.7,712.1 L344.9,706.5 L345,737.2 L345.2,732.5 L345.3,728.2 L345.4,716.8 L345.6,735.1 L345.7,714.5 L345.9,736.4 L346,743 L346.2,719.8 L346.3,741.5 L346.5,708.9 L346.6,736.3 L346.7,733 L346.9,727.1 L347,755.4 L347.2,713.1 L347.3,737.2 L347.5,728.4 L347.6,715.6 L347.8,694.5 L347.9,734.3 L348,735 L348.2,727.6 L348.3,737.8 L348.5,741 L348.6,739.8 L348.8,730.7 L348.9,732.5 L349.1,738.9 L349.2,746.9 L349.4,724.5 L349.5,703.8 L349.6,743.1 L349.8,745.2 L349.9,713.8 L350.1,731.9 L350.2,741.4 L350.4,747.9 L350.5,738 L350.7,726.8 L350.8,742.2 L350.9,755.6 L351.1,739.9 L351.2,750.1 L351.4,740.6 L351.5,720.9 L351.7,752.8 L351.8,765 L352,756.7 L352.1,742.7 L352.2,731.7 L352.4,732.7 L352.5,724.4 L352.7,733.6 L352.8,726 L353,710.1 L353.1,737.2 L353.3,733.1 L353.4,735.2 L353.5,740.1 L353.7,711.5 L353.8,745 L354,710.5 L354.1,744.9 L354.3,734 L354.4,738.4 L354.6,744.1 L354.7,741.6 L354.8,733.3 L355,734.9 L355.1,735.5 L355.3,737.4 L355.4,726.1 L355.6,724 L355.7,730.8 L355.9,752.9 L356,727.5 L356.2,741.1 L356.3,727.5 L356.4,752 L356.6,765 L356.7,734.7 L356.9,743.9 L357,747.3 L357.2,759.2 L357.3,742.3 L357.5,742.5 L357.6,741.1 L357.7,698.4 L357.9,762.2 L358,773.8 L358.2,726 L358.3,751 L358.5,744.2 L358.6,771.1 L358.8,634.4 L358.9,748.2 L359,769.5 L359.2,756.2 L359.3,750.4 L359.5,746.3 L359.6,739.3 L359.8,746.7 L359.9,735.6 L360.1,759.4 L360.2,750.7 L360.3,745.1 L360.5,730.3 L360.6,767.1 L360.8,757.6 L360.9,750.6 L361.1,746.6 L361.2,754.4 L361.4,752.5 L361.5,745.4 L361.7,748.7 L361.8,757.9 L361.9,738.5 L362.1,731.5 L362.2,731 L362.4,749.2 L362.5,749.3 L362.7,750 L362.8,736.5 L363,740.1 L363.1,743.4 L363.2,748.4 L363.4,753.1 L363.5,755 L363.7,750.9 L363.8,748.3 L364,739.4 L364.1,741.9 L364.3,733.1 L364.4,746.8 L364.5,759 L364.7,754.4 L364.8,729.1 L365,775.3 L365.1,725 L365.3,760.8 L365.4,750.4 L365.6,749.5 L365.7,759.2 L365.8,746.8 L366,768.9 L366.1,746.5 L366.3,748 L366.4,758.2 L366.6,730.3 L366.7,750.4 L366.9,685.4 L367,762.5 L367.2,757.1 L367.3,751.2 L367.4,712.5 L367.6,766.6 L367.7,713.7 L367.9,720.1 L368,744.7 L368.2,728.1 L368.3,630 L368.5,748.5 L368.6,761.3 L368.7,761.8 L368.9,757.1 L369,747.2 L369.2,758.6 L369.3,762.9 L369.5,726.4 L369.6,751 L369.8,753.7 L369.9,755 L370,751.5 L370.2,768.5 L370.3,752.2 L370.5,764.1 L370.6,759 L370.8,817.1 L370.9,766.9 L371.1,711.4 L371.2,760.5 L371.3,733.2 L371.5,778.5 L371.6,750.6 L371.8,732.8 L371.9,745.3 L372.1,752.6 L372.2,767.8 L372.4,757.1 L372.5,765.8 L372.6,742.1 L372.8,751.5 L372.9,722.3 L373.1,752.5 L373.2,751.2 L373.4,756.2 L373.5,737.6 L373.7,754.6 L373.8,752 L374,770.2 L374.1,741.8 L374.2,750.5 L374.4,747.3 L374.5,742.9 L374.7,764.3 L374.8,732.3 L375,779 L375.1,766.1 L375.3,763.9 L375.4,747.4 L375.5,744.3 L375.7,751.1 L375.8,746.4 L376,760.5 L376.1,765.2 L376.3,749.2 L376.4,723.3 L376.6,758.4 L376.7,778.5 L376.8,756.4 L377,767.4 L377.1,740.8 L377.3,760.2 L377.4,756.9 L377.6,711.4 L377.7,766.7 L377.9,784.1 L378,774.6 L378.1,756.8 L378.3,759.2 L378.4,772.4 L378.6,766.1 L378.7,765.1 L378.9,773.1 L379,761.1 L379.2,777.9 L379.3,759.3 L379.5,754 L379.6,762 L379.7,741.3 L379.9,752.7 L380,768.6 L380.2,768.4 L380.3,753.9 L380.5,752.7 L380.6,757.7 L380.8,754.6 L380.9,769 L381,759.5 L381.2,748.6 L381.3,753.9 L381.5,770.6 L381.6,780.6 L381.8,768.1 L381.9,730.2 L382.1,753.8 L382.2,773.9 L382.3,759.3 L382.5,766.6 L382.6,781 L382.8,738.7 L382.9,740.3 L383.1,764.3 L383.2,765.1 L383.4,767.1 L383.5,779.4 L383.6,765.2 L383.8,774.4 L383.9,767.4 L384.1,769.2 L384.2,724 L384.4,756.5 L384.5,762 L384.7,771.9 L384.8,750.4 L385,755.9 L385.1,758.5 L385.2,781.1 L385.4,744.2 L385.5,753.1 L385.7,767.9 L385.8,779.4 L386,773.5 L386.1,764.2 L386.3,775.1 L386.4,778.9 L386.5,759.5 L386.7,749.9 L386.8,739.5 L387,769.3 L387.1,757.5 L387.3,771.2 L387.4,778.4 L387.6,772.8 L387.7,787.3 L387.8,768.1 L388,756 L388.1,771.5 L388.3,778 L388.4,754.6 L388.6,774 L388.7,799.3 L388.9,772.3 L389,810.6 L389.1,754 L389.3,775.5 L389.4,734.2 L389.6,751.6 L389.7,754.8 L389.9,789.7 L390,697.5 L390.2,795.9 L390.3,750.8 L390.4,752.8 L390.6,779 L390.7,764.2 L390.9,755.1 L391,778.6 L391.2,780.9 L391.3,763.8 L391.5,773.9 L391.6,782.2 L391.8,762.3 L391.9,763.8 L392,775.5 L392.2,786.8 L392.3,768.2 L392.5,780.3 L392.6,778.6 L392.8,775.5 L392.9,771.9 L393.1,764.8 L393.2,779.9 L393.3,771.7 L393.5,746.4 L393.6,780.6 L393.8,755.6 L393.9,773.4 L394.1,791.9 L394.2,782.4 L394.4,751.7 L394.5,770.5 L394.6,747.6 L394.8,784 L394.9,694.3 L395.1,780.6 L395.2,776.9 L395.4,772.1 L395.5,779.7 L395.7,791.4 L395.8,755.2 L395.9,770.7 L396.1,776.5 L396.2,777.1 L396.4,771.1 L396.5,781.1 L396.7,778.4 L396.8,772.6 L397,731.9 L397.1,783.3 L397.3,790.1 L397.4,799.8 L397.5,781.7 L397.7,788.3 L397.8,742.8 L398,794.3 L398.1,742.4 L398.3,778.3 L398.4,788.5 L398.6,777.4 L398.7,775.1 L398.8,767.8 L399,735.4 L399.1,774.4 L399.3,794.1 L399.4,771.3 L399.6,773 L399.7,783.6 L399.9,808.5 L400,768.3 L400.1,770.3 L400.3,746.6 L400.4,793.7 L400.6,765.9 L400.7,776.3 L400.9,780 L401,770.7 L401.2,802 L401.3,790.3 L401.4,798.5 L401.6,731.2 L401.7,795.9 L401.9,778.6 L402,768.5 L402.2,684.4 L402.3,794.9 L402.5,791.3 L402.6,775.9 L402.8,810.9 L402.9,791.5 L403,772.9 L403.2,772.6 L403.3,768.6 L403.5,781.5 L403.6,771.9 L403.8,768.9 L403.9,801.6 L404.1,775.6 L404.2,787 L404.3,770.3 L404.5,779.8 L404.6,793.1 L404.8,785.6 L404.9,808.7 L405.1,782.8 L405.2,784.7 L405.4,783.3 L405.5,806.6 L405.6,769.3 L405.8,806.2 L405.9,787.7 L406.1,764.2 L406.2,770.4 L406.4,737.3 L406.5,780.4 L406.7,785.4 L406.8,778.3 L406.9,804.8 L407.1,732.6 L407.2,781.1 L407.4,769.9 L407.5,778.4 L407.7,791.2 L407.8,783.8 L408,796.6 L408.1,780.3 L408.2,776.9 L408.4,779.2 L408.5,767.3 L408.7,774.4 L408.8,783.6 L409,802.1 L409.1,772.8 L409.3,773.9 L409.4,745.7 L409.6,768 L409.7,783.4 L409.8,784.4 L410,786.7 L410.1,781 L410.3,792.9 L410.4,763.8 L410.6,783.8 L410.7,796 L410.9,780.4 L411,828 L411.1,779 L411.3,780.1 L411.4,785.8 L411.6,777.1 L411.7,784.3 L411.9,673.5 L412,757.8 L412.2,790.6 L412.3,806.5 L412.4,798.9 L412.6,781.5 L412.7,794.7 L412.9,740 L413,751.8 L413.2,785.8 L413.3,758.2 L413.5,762.6 L413.6,760.5 L413.7,781.8 L413.9,768.3 L414,762.1 L414.2,785 L414.3,779.4 L414.5,785.6 L414.6,791.2 L414.8,795.6 L414.9,783.2 L415.1,775.3 L415.2,781 L415.3,773.4 L415.5,794.1 L415.6,784.6 L415.8,804.6 L415.9,788.5 L416.1,780.4 L416.2,801.3 L416.4,782.8 L416.5,785.3 L416.6,790 L416.8,790.5 L416.9,777.6 L417.1,792.1 L417.2,787.1 L417.4,786.2 L417.5,784.2 L417.7,788.5 L417.8,769.6 L417.9,797.3 L418.1,758.6 L418.2,762 L418.4,762.7 L418.5,789.9 L418.7,787 L418.8,789.7 L419,756.9 L419.1,796.6 L419.2,802.4 L419.4,763.3 L419.5,788.5 L419.7,765.1 L419.8,780.6 L420,791.5 L420.1,777.8 L420.3,754.6 L420.4,779.8 L420.5,795.9 L420.7,788.5 L420.8,793.1 L421,768 L421.1,783.1 L421.3,782.9 L421.4,776.6 L421.6,811.5 L421.7,786.9 L421.9,794.6 L422,781.8 L422.1,804.8 L422.3,792 L422.4,786.4 L422.6,788.7 L422.7,790.4 L422.9,786.8 L423,774 L423.2,790.8 L423.3,784.8 L423.4,790.2 L423.6,768.3 L423.7,800.5 L423.9,795.6 L424,799.5 L424.2,803.6 L424.3,805.6 L424.5,781.3 L424.6,758.3 L424.7,797.8 L424.9,793.4 L425,795.5 L425.2,799.5 L425.3,784.9 L425.5,778.7 L425.6,792.2 L425.8,784.2 L425.9,779.8 L426,836.7 L426.2,783.1 L426.3,793.2 L426.5,761.1 L426.6,786.5 L426.8,786.5 L426.9,789 L427.1,775.1 L427.2,794.7 L427.4,780.3 L427.5,793 L427.6,798.2 L427.8,789.4 L427.9,798.5 L428.1,781.2 L428.2,791.7 L428.4,797.1 L428.5,834.9 L428.7,796.1 L428.8,799.1 L428.9,791.7 L429.1,762.2 L429.2,777.7 L429.4,788.8 L429.5,807.1 L429.7,798.6 L429.8,789.8 L430,791 L430.1,785.4 L430.2,794.8 L430.4,786.9 L430.5,765.7 L430.7,780.8 L430.8,785.6 L431,779.7 L431.1,781.9 L431.3,786.7 L431.4,810.4 L431.5,793.3 L431.7,765.9 L431.8,772.4 L432,792.8 L432.1,784.1 L432.3,788.6 L432.4,786.9 L432.6,753 L432.7,797.9 L432.9,766.9 L433,794.7 L433.1,784 L433.3,774.1 L433.4,778.1 L433.6,695.3 L433.7,802.2 L433.9,761.6 L434,786.8 L434.2,793.7 L434.3,789.1 L434.4,790.3 L434.6,802.5 L434.7,783.5 L434.9,820.1 L435,813.8 L435.2,792.8 L435.3,801.9 L435.5,793.1 L435.6,786.7 L435.7,778.5 L435.9,784.2 L436,795.9 L436.2,794 L436.3,818 L436.5,803.7 L436.6,798.5 L436.8,793.5 L436.9,812 L437,791.2 L437.2,766 L437.3,788.8 L437.5,795.3 L437.6,796.2 L437.8,801.3 L437.9,804.7 L438.1,764.1 L438.2,809.8 L438.3,801.1 L438.5,792.6 L438.6,752.5 L438.8,798.4 L438.9,780.9 L439.1,745.5 L439.2,801.6 L439.4,796.3 L439.5,790.5 L439.7,782.2 L439.8,795.4 L439.9,792.6 L440.1,794.8 L440.2,798.7 L440.4,775.8 L440.5,795.6 L440.7,778.3 L440.8,795.7 L441,787.8 L441.1,786.5 L441.2,804.9 L441.4,793.8 L441.5,793.7 L441.7,798.3 L441.8,828.4 L442,761.3 L442.1,796.4 L442.3,792.9 L442.4,801.4 L442.5,792.5 L442.7,791.9 L442.8,802.4 L443,792.2 L443.1,771.7 L443.3,793 L443.4,807.5 L443.6,802.8 L443.7,758.8 L443.8,789.5 L444,769.8 L444.1,800.4 L444.3,735.2 L444.4,823.6 L444.6,801.5 L444.7,784.7 L444.9,786.3 L445,797.6 L445.2,811.1 L445.3,785.9 L445.4,793.6 L445.6,772.6 L445.7,788.7 L445.9,797.3 L446,793.9 L446.2,798.7 L446.3,779.5 L446.5,794.7 L446.6,790.1 L446.7,762.1 L446.9,802.4 L447,704 L447.2,779.6 L447.3,802.3 L447.5,803 L447.6,767.9 L447.8,797.6 L447.9,813.2 L448,796.4 L448.2,808.5 L448.3,775.5 L448.5,776.8 L448.6,760 L448.8,802.7 L448.9,810.2 L449.1,766.3 L449.2,809.7 L449.3,756.5 L449.5,778.4 L449.6,793 L449.8,786.4 L449.9,793.5 L450.1,797.7 L450.2,803.6 L450.4,788.8 L450.5,786.7 L450.7,786.2 L450.8,813.9 L450.9,814.9 L451.1,804.2 L451.2,804.6 L451.4,796.6 L451.5,819.9 L451.7,793.9 L451.8,777.7 L452,756.4 L452.1,815.2 L452.2,794.7 L452.4,766.2 L452.5,793 L452.7,803.4 L452.8,782.3 L453,792.4 L453.1,801.6 L453.3,763.9 L453.4,795.4 L453.5,803.8 L453.7,799.2 L453.8,796.6 L454,803.7 L454.1,798.2 L454.3,784.1 L454.4,740.8 L454.6,801.8 L454.7,776.4 L454.8,781.3 L455,801.5 L455.1,815.9 L455.3,795.8 L455.4,761.5 L455.6,776.7 L455.7,805.3 L455.9,796.4 L456,800.6 L456.1,801.9 L456.3,783 L456.4,775.5 L456.6,793.4 L456.7,792.5 L456.9,776.3 L457,780.5 L457.2,777.4 L457.3,818.6 L457.5,814.4 L457.6,796.9 L457.7,790.9 L457.9,801.5 L458,795.2 L458.2,784.9 L458.3,714.4 L458.5,796.4 L458.6,787.7 L458.8,794 L458.9,769.7 L459,791 L459.2,796.4 L459.3,779.7 L459.5,786.9 L459.6,790.2 L459.8,801.7 L459.9,775 L460.1,802.1 L460.2,792 L460.3,799.1 L460.5,803.5 L460.6,797.9 L460.8,802.5 L460.9,790.4 L461.1,818.5 L461.2,795.6 L461.4,779.5 L461.5,805.1 L461.6,833.9 L461.8,841 L461.9,771.4 L462.1,790.8 L462.2,763.3 L462.4,810 L462.5,800.7 L462.7,775.7 L462.8,772.6 L463,837.9 L463.1,798.1 L463.2,787.9 L463.4,801.8 L463.5,793.6 L463.7,790.7 L463.8,798.9 L464,788.5 L464.1,784.2 L464.3,798.9 L464.4,799.8 L464.5,771.8 L464.7,804.4 L464.8,801 L465,784.9 L465.1,828.1 L465.3,801.3 L465.4,820.9 L465.6,788.3 L465.7,784.9 L465.8,799 L466,790.5 L466.1,791.6 L466.3,761.8 L466.4,833 L466.6,801.4 L466.7,807.9 L466.9,811.4 L467,796.6 L467.1,813.6 L467.3,770.8 L467.4,792.9 L467.6,791 L467.7,795.6 L467.9,784.1 L468,804.4 L468.2,813.5 L468.3,799.2 L468.5,802.3 L468.6,744 L468.7,788.9 L468.9,800.7 L469,780.3 L469.2,802.4 L469.3,787.2 L469.5,803.5 L469.6,763.3 L469.8,806.4 L469.9,809.4 L470,803.5 L470.2,815.2 L470.3,795.3 L470.5,813.3 L470.6,766.1 L470.8,805.9 L470.9,802.2 L471.1,795.3 L471.2,818.1 L471.3,785.3 L471.5,792.1 L471.6,800.8 L471.8,774 L471.9,787.4 L472.1,806.5 L472.2,794.5 L472.4,773.4 L472.5,793.1 L472.6,791.9 L472.8,779.9 L472.9,801.3 L473.1,786.7 L473.2,762.8 L473.4,799 L473.5,797.7 L473.7,819.7 L473.8,783.9 L473.9,792.2 L474.1,816.1 L474.2,804.5 L474.4,784.5 L474.5,789.4 L474.7,804.2 L474.8,797.1 L475,789.3 L475.1,793.6 L475.3,788.3 L475.4,814.5 L475.5,770.3 L475.7,750.2 L475.8,819.3 L476,779.9 L476.1,795.4 L476.3,809.3 L476.4,766.2 L476.6,797 L476.7,789 L476.8,789 L477,732.3 L477.1,786.9 L477.3,799.6 L477.4,800.6 L477.6,775.9 L477.7,788.2 L477.9,796.9 L478,784 L478.1,814.6 L478.3,808.8 L478.4,778.7 L478.6,775.4 L478.7,849.2 L478.9,778.5 L479,779.7 L479.2,784.8 L479.3,814.5 L479.4,828.9 L479.6,792 L479.7,810.6 L479.9,797.2 L480,808.4 L480.2,794.4 L480.3,812.3 L480.5,808.7 L480.6,784.7 L480.8,780.4 L480.9,808.8 L481,803.9 L481.2,788.7 L481.3,789.4 L481.5,794 L481.6,795.6 L481.8,797.5 L481.9,797.6 L482.1,798 L482.2,795 L482.3,816.2 L482.5,791.6 L482.6,792.4 L482.8,804.3 L482.9,790 L483.1,803.5 L483.2,801.2 L483.4,808.3 L483.5,775.7 L483.6,753.9 L483.8,809.6 L483.9,797.9 L484.1,829.1 L484.2,806.2 L484.4,795.1 L484.5,805.5 L484.7,778.9 L484.8,789.5 L484.9,800.5 L485.1,801.7 L485.2,782.1 L485.4,806.9 L485.5,804.9 L485.7,809.2 L485.8,765.6 L486,805.6 L486.1,794.1 L486.3,788.7 L486.4,803 L486.5,801.7 L486.7,810.4 L486.8,815.9 L487,795.4 L487.1,772 L487.3,797.3 L487.4,804.4 L487.6,810.6 L487.7,793.8 L487.8,805 L488,792.5 L488.1,798.9 L488.3,799.3 L488.4,803.9 L488.6,807.5 L488.7,795 L488.9,805.5 L489,793.9 L489.1,808.6 L489.3,807.4 L489.4,797.6 L489.6,779.7 L489.7,802.8 L489.9,801 L490,796.1 L490.2,806.8 L490.3,807.8 L490.4,797.7 L490.6,807.8 L490.7,823.2 L490.9,830.3 L491,815.5 L491.2,802 L491.3,797.4 L491.5,741 L491.6,828.2 L491.7,822.3 L491.9,843 L492,794.5 L492.2,786.9 L492.3,813.4 L492.5,810.4 L492.6,792.5 L492.8,793.4 L492.9,764.8 L493.1,810.7 L493.2,789.3 L493.3,816 L493.5,803.4 L493.6,784.3 L493.8,792.9 L493.9,812.3 L494.1,804.7 L494.2,802.5 L494.4,814.1 L494.5,804.4 L494.6,807.2 L494.8,807.5 L494.9,805.4 L495.1,813.2 L495.2,794.1 L495.4,813.3 L495.5,816.7 L495.7,799.8 L495.8,813.7 L495.9,793 L496.1,805.7 L496.2,826.2 L496.4,812.4 L496.5,797.4 L496.7,809.6 L496.8,814.3 L497,806.2 L497.1,806.6 L497.2,811.5 L497.4,778.2 L497.5,799.5 L497.7,832.1 L497.8,804.2 L498,808.2 L498.1,807.9 L498.3,849.7 L498.4,805.9 L498.6,798.2 L498.7,805.7 L498.8,730 L499,823.1 L499.1,809.9 L499.3,803.6 L499.4,798.6 L499.6,769.4 L499.7,804.4 L499.9,796.5 L500,799.2 L500.1,702.4 L500.3,806.8 L500.4,807.3 L500.6,806.4 L500.7,782.6 L500.9,797.3 L501,817.9 L501.2,825 L501.3,809.6 L501.4,807.1 L501.6,825.4 L501.7,819.1 L501.9,848.4 L502,803.5 L502.2,813.1 L502.3,794.4 L502.5,812.6 L502.6,810.8 L502.7,800.5 L502.9,831.3 L503,770 L503.2,775.8 L503.3,832.1 L503.5,810.3 L503.6,813.8 L503.8,795.6 L503.9,800.7 L504.1,783.6 L504.2,797.7 L504.3,820.4 L504.5,812.2 L504.6,792.2 L504.8,809.2 L504.9,809.6 L505.1,781.4 L505.2,810.5 L505.4,792.7 L505.5,824 L505.6,805.7 L505.8,811.4 L505.9,774.2 L506.1,803.6 L506.2,808.3 L506.4,801.8 L506.5,803.1 L506.7,787.6 L506.8,821 L506.9,797.9 L507.1,804.9 L507.2,818.3 L507.4,825.4 L507.5,807.7 L507.7,780.3 L507.8,767 L508,811.3 L508.1,811 L508.2,805.3 L508.4,760.3 L508.5,823.5 L508.7,805.1 L508.8,845 L509,803.4 L509.1,805.4 L509.3,811.3 L509.4,806.4 L509.5,809.9 L509.7,804.8 L509.8,814.6 L510,831.7 L510.1,785.1 L510.3,829.8 L510.4,811.6 L510.6,805.1 L510.7,797.9 L510.9,810.7 L511,796.8 L511.1,821.8 L511.3,813.7 L511.4,804.3 L511.6,793.2 L511.7,815.9 L511.9,794.3 L512,813.8 L512.2,811.4 L512.3,753.6 L512.4,804.9 L512.6,822 L512.7,802.1 L512.9,789.2 L513,768.8 L513.2,808.5 L513.3,812.8 L513.5,822.9 L513.6,812.8 L513.7,791 L513.9,806.8 L514,792.2 L514.2,809.5 L514.3,799.2 L514.5,820.3 L514.6,818.8 L514.8,808 L514.9,812.5 L515,799.5 L515.2,813 L515.3,804 L515.5,803.2 L515.6,823.2 L515.8,812.8 L515.9,807.4 L516.1,778.2 L516.2,811.9 L516.4,823.3 L516.5,814.4 L516.6,815.5 L516.8,830 L516.9,843.2 L517.1,821 L517.2,809.3 L517.4,814.2 L517.5,767 L517.7,816 L517.8,820.5 L517.9,808.9 L518.1,815.4 L518.2,815.4 L518.4,812.2 L518.5,808 L518.7,818.9 L518.8,810.2 L519,783.5 L519.1,818.5 L519.2,800.6 L519.4,819 L519.5,790.8 L519.7,813.9 L519.8,826 L520,812.3 L520.1,821.9 L520.3,807.3 L520.4,807.4 L520.5,809.7 L520.7,828.5 L520.8,822.9 L521,835.3 L521.1,811.2 L521.3,814.3 L521.4,796.4 L521.6,807.8 L521.7,824.5 L521.9,800.1 L522,817.7 L522.1,817.4 L522.3,782.5 L522.4,816.8 L522.6,811.1 L522.7,815.9 L522.9,813.8 L523,811.1 L523.2,797.2 L523.3,796.7 L523.4,839.9 L523.6,798.4 L523.7,793 L523.9,811.4 L524,812.2 L524.2,800.8 L524.3,818.5 L524.5,815 L524.6,810.6" stroke="#fa8072" stroke-width="1.7" stroke-linejoin="miter" stroke-miterlimit="2" clip-path="url(#cc)"/>
</g>
<path d="M300.2,708 L302.6,738 L305.2,775 L307.3,807 L309.4,775 L312.4,738 L315.6,708 L311,722 L307.8,738 L304.5,722 Z" fill="#fa8072" stroke="#fa8072" stroke-width="1" stroke-linejoin="round"/>
<line x1="307.4" y1="800" x2="307.4" y2="859" stroke="#f0806f" stroke-width="2"/>
<line x1="288.9" y1="671.5" x2="288.9" y2="683.5" stroke="#8ec3f8" stroke-width="1.8"/>
<circle cx="288.9" cy="671.5" r="3.6" fill="#8ec3f8"/>
<!-- tick labels -->
<g class="tl"><text transform="translate(84,25.9) scale(1.0,1)" text-anchor="end">60</text><text transform="translate(84,73.1) scale(1.0,1)" text-anchor="end">40</text><text transform="translate(84,120.2) scale(1.0,1)" text-anchor="end">20</text><text transform="translate(84,167.3) scale(1.0,1)" text-anchor="end">0</text><text transform="translate(84,214.4) scale(1.0,1)" text-anchor="end">-20</text><text transform="translate(84,261.5) scale(1.0,1)" text-anchor="end">-40</text><text transform="translate(84,308.7) scale(1.0,1)" text-anchor="end">-60</text><text transform="translate(84,340.4) scale(1.0,1)" text-anchor="end">0.0</text><text transform="translate(84,403) scale(1.0,1)" text-anchor="end">-0.1</text><text transform="translate(84,465.6) scale(1.0,1)" text-anchor="end">-0.2</text><text transform="translate(84,528.3) scale(1.0,1)" text-anchor="end">-0.3</text><text transform="translate(84,590.9) scale(1.0,1)" text-anchor="end">-0.4</text><text transform="translate(84,631.6) scale(1.0,1)" text-anchor="end">0.8</text><text transform="translate(84,792.9) scale(1.0,1)" text-anchor="end">0.4</text><text transform="translate(90.6,892.6) scale(1.0,1)" text-anchor="middle">-9</text><text transform="translate(162.9,892.6) scale(1.0,1)" text-anchor="middle">-6</text><text transform="translate(235.3,892.6) scale(1.0,1)" text-anchor="middle">-3</text><text transform="translate(307.6,892.6) scale(1.0,1)" text-anchor="middle">0</text><text transform="translate(379.9,892.6) scale(1.0,1)" text-anchor="middle">3</text><text transform="translate(452.3,892.6) scale(1.0,1)" text-anchor="middle">6</text><text transform="translate(523.1,892.6) scale(1.0,1)" text-anchor="middle">9</text></g>
<!-- panel labels -->
<text class="b" x="109" y="61.8" font-size="36" word-spacing="2">(a) 2 K</text>
<text class="b" x="109" y="343.6" font-size="36">(b)</text>
<text class="b" x="109" y="626.8" font-size="36">(c)</text>
<!-- annotations -->
<text x="326.6" y="139.8" font-size="28.5"><tspan class="it">H</tspan><tspan font-size="20.5" dy="6.5">C</tspan><tspan dy="-6.5"> ≈ 0.3 T</tspan></text>
<text x="452" y="267" font-size="31.2" class="b it">H<tspan font-size="18.5" dy="8">b*</tspan></text>
<!-- x title -->
<text x="263.4" y="926" font-size="30.4"><tspan class="it">H</tspan><tspan class="it" font-size="22" dy="8.6">b*</tspan><tspan dy="-8.6"> (T)</tspan></text>
<!-- y titles -->
<text transform="translate(30.2,197.8) rotate(-90)" font-size="29.6"><tspan class="it">P</tspan><tspan class="it" font-size="21.5" dy="10.2" dx="2.2">a</tspan><tspan dy="-10.2"> (μC/m</tspan><tspan font-size="21.5" dy="-12.2">2</tspan><tspan dy="12.2">)</tspan></text>
<text transform="translate(28.8,475.8) rotate(-90)" font-size="30.4">MD<tspan class="it" font-size="20.5" dy="10.2">a</tspan><tspan dy="-10.2"> (%)</tspan></text>
<text transform="translate(38.6,763) rotate(-90)" font-size="31.2">d<tspan class="it">M</tspan><tspan class="it" font-size="18.5" dy="8.6">b*</tspan><tspan dy="-8.6">/d</tspan><tspan class="it">H</tspan><tspan class="it" font-size="18.5" dy="8.6">b*</tspan></text>
</svg>
</body></html>
